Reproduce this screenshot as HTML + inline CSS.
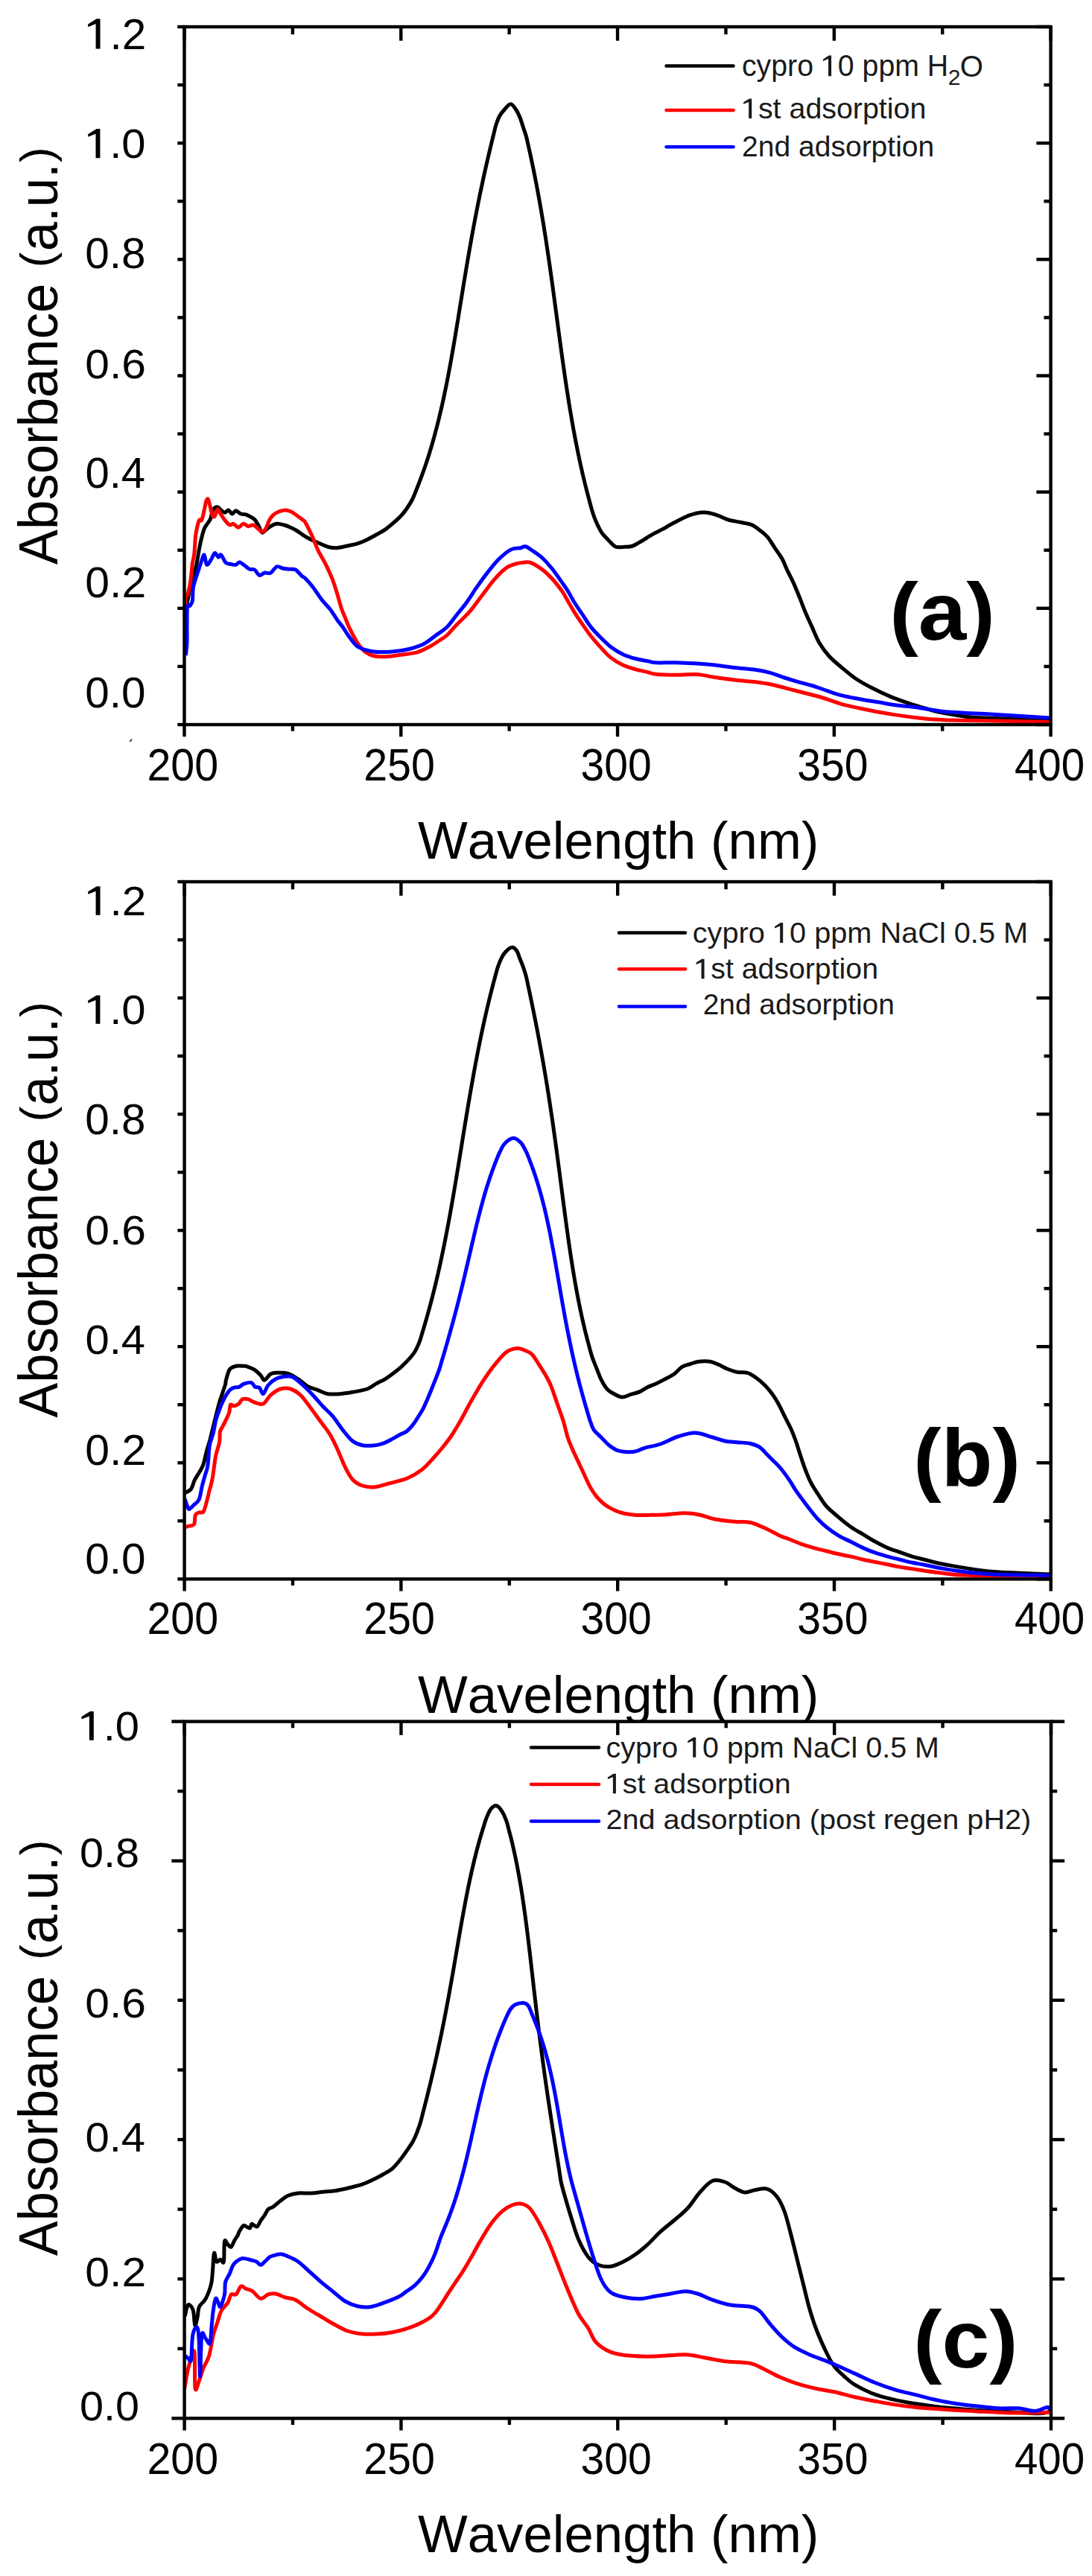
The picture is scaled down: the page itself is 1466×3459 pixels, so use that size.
<!DOCTYPE html><html><head><meta charset="utf-8"><title>UV-Vis spectra</title><style>html,body{margin:0;padding:0;background:#fff;width:1466px;height:3459px;overflow:hidden}svg text{font-family:"Liberation Sans",sans-serif}</style></head><body><svg xmlns="http://www.w3.org/2000/svg" width="1466" height="3459" viewBox="0 0 1466 3459" style="display:block;font-family:'Liberation Sans',sans-serif">
<rect width="1466" height="3459" fill="#fff"/>
<clipPath id="clipa"><rect x="247.5" y="36" width="1163.1" height="937"/></clipPath>
<g clip-path="url(#clipa)">
<path d="M248,838 C248.33,834.45 248.55,825.82 250,816.7 C251.45,807.58 254.48,792.75 256.7,783.3 C258.92,773.85 261.5,767.77 263.3,760 C265.1,752.23 266.25,743.08 267.5,736.7 C268.75,730.32 269.68,726.15 270.8,721.7 C271.92,717.25 272.95,713.07 274.2,710 C275.45,706.93 276.92,705.52 278.3,703.3 C279.68,701.08 281.25,699.75 282.5,696.7 C283.75,693.65 284.27,687.65 285.8,685 C287.33,682.35 289.88,680.8 291.7,680.8 C293.52,680.8 295.03,683.75 296.7,685 C298.37,686.25 300.03,688.3 301.7,688.3 C303.37,688.3 305.03,684.72 306.7,685 C308.37,685.28 310.03,689.87 311.7,690 C313.37,690.13 314.77,685.8 316.7,685.8 C318.63,685.8 321.08,689.17 323.3,690 C325.52,690.83 327.77,690.1 330,690.8 C332.23,691.5 334.75,693.08 336.7,694.2 C338.65,695.32 340.03,695.7 341.7,697.5 C343.37,699.3 345.03,702.08 346.7,705 C348.37,707.92 350.03,713.88 351.7,715 C353.37,716.12 354.77,713.08 356.7,711.7 C358.63,710.32 360.8,708.1 363.3,706.7 C365.8,705.3 368.63,703.58 371.7,703.3 C374.77,703.02 378.65,704.17 381.7,705 C384.75,705.83 387.23,707.05 390,708.3 C392.77,709.55 395.52,710.83 398.3,712.5 C401.08,714.17 403.92,716.5 406.7,718.3 C409.48,720.1 412.78,722.05 415,723.3 C417.22,724.55 417.5,724.68 420,725.8 C422.5,726.92 426.67,728.6 430,730 C433.33,731.4 436.38,733.23 440,734.2 C443.62,735.17 446.98,736.08 451.7,735.8 C456.42,735.52 463.58,733.48 468.3,732.5 C473.02,731.52 475.85,731.25 480,729.9 C484.15,728.55 488.62,726.6 493.2,724.4 C497.78,722.2 503.28,719.08 507.5,716.7 C511.72,714.32 514.75,712.8 518.5,710.1 C522.25,707.4 526.67,703.43 530,700.5 C533.33,697.57 535.83,695.42 538.5,692.5 C541.17,689.58 543.5,686.63 546,683 C548.5,679.37 551.37,674.83 553.48,670.74 C555.59,666.65 556.99,662.57 558.66,658.48 C560.33,654.39 561.93,650.31 563.49,646.22 C565.05,642.13 566.55,638.05 568.01,633.96 C569.47,629.87 570.87,625.79 572.23,621.7 C573.59,617.61 574.92,613.53 576.19,609.44 C577.47,605.35 578.69,601.27 579.88,597.18 C581.07,593.09 582.23,589.01 583.35,584.92 C584.47,580.83 585.55,576.75 586.6,572.66 C587.65,568.57 588.67,564.49 589.66,560.4 C590.65,556.31 591.61,552.22 592.55,548.13 C593.49,544.04 594.39,539.96 595.28,535.87 C596.16,531.78 597.02,527.7 597.86,523.61 C598.7,519.52 599.53,515.44 600.33,511.35 C601.13,507.26 601.91,503.18 602.68,499.09 C603.45,495 604.2,490.92 604.94,486.83 C605.68,482.74 606.41,478.66 607.13,474.57 C607.85,470.48 608.55,466.4 609.25,462.31 C609.95,458.22 610.63,454.14 611.31,450.05 C611.99,445.96 612.67,441.88 613.34,437.79 C614.01,433.7 614.69,429.62 615.35,425.53 C616.01,421.44 616.67,417.36 617.33,413.27 C617.99,409.18 618.66,405.1 619.32,401.01 C619.98,396.92 620.64,392.84 621.31,388.75 C621.97,384.66 622.64,380.58 623.31,376.49 C623.98,372.4 624.66,368.32 625.34,364.23 C626.02,360.14 626.71,356.06 627.4,351.97 C628.09,347.88 628.79,343.8 629.5,339.71 C630.21,335.62 630.92,331.54 631.65,327.45 C632.38,323.36 633.11,319.28 633.85,315.19 C634.59,311.1 635.35,307.02 636.11,302.93 C636.87,298.84 637.64,294.76 638.43,290.67 C639.21,286.58 640.01,282.49 640.82,278.4 C641.63,274.31 642.45,270.23 643.28,266.14 C644.11,262.05 644.96,257.97 645.82,253.88 C646.68,249.79 647.56,245.71 648.44,241.62 C649.33,237.53 650.22,233.45 651.13,229.36 C652.04,225.27 652.97,221.19 653.91,217.1 C654.85,213.01 655.79,208.93 656.76,204.84 C657.73,200.75 658.71,196.67 659.7,192.58 C660.69,188.49 661.7,184.41 662.72,180.32 C663.74,176.23 664.49,172.15 665.82,168.06 C667.15,163.97 668.79,159.31 670.7,155.8 C672.61,152.29 674.83,149.67 677.3,147 C679.77,144.33 682.95,139.8 685.5,139.8 C688.05,139.8 690.5,143.97 692.6,147 C694.7,150.03 696.45,153.97 698.1,158 C699.75,162.03 701.11,167 702.5,171.2 C703.89,175.4 705.33,179.21 706.45,183.21 C707.57,187.21 708.31,191.21 709.22,195.21 C710.13,199.21 711.02,203.22 711.89,207.22 C712.76,211.22 713.61,215.23 714.45,219.23 C715.29,223.23 716.11,227.23 716.92,231.23 C717.73,235.23 718.51,239.24 719.29,243.24 C720.06,247.24 720.82,251.25 721.57,255.25 C722.32,259.25 723.05,263.25 723.77,267.25 C724.49,271.25 725.2,275.26 725.89,279.26 C726.58,283.26 727.26,287.27 727.93,291.27 C728.6,295.27 729.26,299.27 729.91,303.27 C730.56,307.27 731.19,311.28 731.82,315.28 C732.45,319.28 733.06,323.29 733.67,327.29 C734.28,331.29 734.88,335.3 735.47,339.3 C736.06,343.3 736.65,347.3 737.23,351.3 C737.81,355.3 738.38,359.31 738.94,363.31 C739.51,367.31 740.07,371.32 740.62,375.32 C741.17,379.32 741.73,383.32 742.27,387.32 C742.81,391.32 743.35,395.33 743.89,399.33 C744.43,403.33 744.97,407.34 745.51,411.34 C746.05,415.34 746.58,419.34 747.11,423.34 C747.64,427.34 748.18,431.35 748.71,435.35 C749.24,439.35 749.77,443.36 750.31,447.36 C750.85,451.36 751.39,455.36 751.93,459.36 C752.47,463.36 753.02,467.37 753.57,471.37 C754.12,475.37 754.67,479.38 755.23,483.38 C755.79,487.38 756.36,491.38 756.93,495.38 C757.5,499.38 758.08,503.39 758.67,507.39 C759.26,511.39 759.86,515.4 760.46,519.4 C761.07,523.4 761.67,527.4 762.3,531.4 C762.92,535.4 763.56,539.41 764.21,543.41 C764.86,547.41 765.52,551.42 766.2,555.42 C766.88,559.42 767.57,563.42 768.27,567.42 C768.97,571.42 769.69,575.43 770.43,579.43 C771.17,583.43 771.92,587.44 772.69,591.44 C773.46,595.44 774.25,599.45 775.06,603.45 C775.87,607.45 776.7,611.45 777.55,615.45 C778.4,619.45 779.27,623.46 780.16,627.46 C781.05,631.46 781.97,635.47 782.91,639.47 C783.85,643.47 784.82,647.47 785.81,651.47 C786.8,655.47 787.82,659.48 788.86,663.48 C789.9,667.48 790.98,671.49 792.08,675.49 C793.18,679.49 794.18,683.49 795.47,687.49 C796.76,691.49 797.79,694.95 799.8,699.5 C801.8,704.05 804.75,710.6 807.5,714.8 C810.25,719 813.18,721.48 816.3,724.7 C819.42,727.92 822.73,732.48 826.2,734.1 C829.67,735.72 833.45,734.5 837.1,734.4 C840.75,734.3 844.8,734.38 848.1,733.5 C851.4,732.62 853.6,730.93 856.9,729.1 C860.2,727.27 864.23,724.7 867.9,722.5 C871.57,720.3 875.23,717.92 878.9,715.9 C882.57,713.88 886.38,712.3 889.9,710.4 C893.42,708.5 894.98,707.2 900,704.5 C905.02,701.8 915.02,696.52 920,694.2 C924.98,691.88 926.05,691.62 929.9,690.6 C933.75,689.58 939.25,688.37 943.1,688.1 C946.95,687.83 949.15,688.17 953,689 C956.85,689.83 962.08,691.6 966.2,693.1 C970.32,694.6 973.03,696.63 977.7,698 C982.37,699.37 988.98,700.2 994.2,701.3 C999.42,702.4 1004.88,702.95 1009,704.6 C1013.12,706.25 1015.33,708.45 1018.9,711.2 C1022.47,713.95 1026.83,716.98 1030.4,721.1 C1033.97,725.22 1037,730.95 1040.3,735.9 C1043.6,740.85 1047.45,745.85 1050.2,750.8 C1052.95,755.75 1054.33,760.38 1056.8,765.6 C1059.27,770.82 1062.25,776.05 1065,782.1 C1067.75,788.15 1070.53,795.08 1073.3,801.9 C1076.07,808.72 1078.83,816.42 1081.6,823 C1084.37,829.58 1086.87,834.75 1089.9,841.4 C1092.93,848.05 1095.95,856.3 1099.8,862.9 C1103.65,869.5 1108.07,875.52 1113,881 C1117.93,886.48 1123.37,890.72 1129.4,895.8 C1135.43,900.88 1142.32,906.83 1149.2,911.5 C1156.08,916.17 1163,919.82 1170.7,923.8 C1178.4,927.78 1187.17,931.97 1195.4,935.4 C1203.63,938.83 1211.87,941.65 1220.1,944.4 C1228.33,947.15 1238.15,949.97 1244.8,951.9 C1251.45,953.83 1251.92,954.37 1260,956 C1268.08,957.63 1283.03,960.37 1293.3,961.7 C1303.57,963.03 1302.23,963.15 1321.6,964 C1340.97,964.85 1394.85,966.33 1409.5,966.8" fill="none" stroke="#000000" stroke-width="5.0" stroke-linejoin="round" stroke-linecap="butt"/>
<path d="M248,848 C248.17,840.83 248.33,813.33 249,805 C249.67,796.67 251,801.33 252,798 C253,794.67 254.17,789.67 255,785 C255.83,780.33 256.45,774.72 257,770 C257.55,765.28 257.67,761.15 258.3,756.7 C258.93,752.25 260.1,749.42 260.8,743.3 C261.5,737.18 261.8,726.1 262.5,720 C263.2,713.9 264.17,710.32 265,706.7 C265.83,703.08 266.53,699.7 267.5,698.3 C268.47,696.9 269.68,700.52 270.8,698.3 C271.92,696.08 273.22,689.17 274.2,685 C275.18,680.83 275.87,675.8 276.7,673.3 C277.53,670.8 278.37,669.17 279.2,670 C280.03,670.83 280.73,674.68 281.7,678.3 C282.67,681.92 283.9,689.2 285,691.7 C286.1,694.2 287.18,694.55 288.3,693.3 C289.42,692.05 290.58,685.03 291.7,684.2 C292.82,683.37 293.33,685.95 295,688.3 C296.67,690.65 299.48,695.52 301.7,698.3 C303.92,701.08 306.37,704.17 308.3,705 C310.23,705.83 311.35,702.75 313.3,703.3 C315.25,703.85 317.77,708.3 320,708.3 C322.23,708.3 324.48,703.57 326.7,703.3 C328.92,703.03 331.08,706.42 333.3,706.7 C335.52,706.98 337.77,704.45 340,705 C342.23,705.55 344.75,708.47 346.7,710 C348.65,711.53 350.03,714.2 351.7,714.2 C353.37,714.2 355.03,712.65 356.7,710 C358.37,707.35 360.03,701.35 361.7,698.3 C363.37,695.25 364.77,693.5 366.7,691.7 C368.63,689.9 370.53,688.62 373.3,687.5 C376.07,686.38 380.23,685 383.3,685 C386.37,685 388.92,686.12 391.7,687.5 C394.48,688.88 397.5,691.5 400,693.3 C402.5,695.1 405.03,696.9 406.7,698.3 C408.37,699.7 408.07,698.37 410,701.7 C411.93,705.03 415.52,712.2 418.3,718.3 C421.08,724.4 423.63,731.9 426.7,738.3 C429.77,744.7 433.52,750.3 436.7,756.7 C439.88,763.1 443.17,770.03 445.8,776.7 C448.43,783.37 450.42,790.03 452.5,796.7 C454.58,803.37 456.72,811.82 458.3,816.7 C459.88,821.58 460.72,822.78 462,826 C463.28,829.22 464.67,832.83 466,836 C467.33,839.17 467.67,840.45 470,845 C472.33,849.55 476.67,858.3 480,863.3 C483.33,868.3 486.38,872.08 490,875 C493.62,877.92 496.98,879.68 501.7,880.8 C506.42,881.92 512.2,881.97 518.3,881.7 C524.4,881.43 531.35,880.18 538.3,879.2 C545.25,878.22 553.6,877.62 560,875.8 C566.4,873.98 571.7,870.93 576.7,868.3 C581.7,865.67 586.12,862.55 590,860 C593.88,857.45 596.13,856.55 600,853 C603.87,849.45 608.25,843.83 613.2,838.7 C618.15,833.57 624.2,828.52 629.7,822.2 C635.2,815.88 640.72,807.95 646.2,800.8 C651.68,793.65 657.12,785.62 662.6,779.3 C668.08,772.98 674.15,766.6 679.1,762.9 C684.05,759.2 688.45,758.35 692.3,757.1 C696.15,755.85 698.9,755.68 702.2,755.4 C705.5,755.12 707.7,753.75 712.1,755.4 C716.5,757.05 723.65,761.58 728.6,765.3 C733.55,769.02 737.42,772.88 741.8,777.7 C746.18,782.52 751.87,789.98 754.9,794.2 C757.93,798.42 757.32,798.38 760,803 C762.68,807.62 767.33,816 771,821.9 C774.67,827.8 778.33,833.1 782,838.4 C785.67,843.7 788.97,848.58 793,853.7 C797.03,858.82 801.63,864.15 806.2,869.1 C810.77,874.05 815.28,879.37 820.4,883.4 C825.52,887.43 831.4,890.73 836.9,893.3 C842.4,895.87 847.9,897.25 853.4,898.8 C858.9,900.35 865.47,901.53 869.9,902.6 C874.33,903.67 873.52,904.6 880,905.2 C886.48,905.8 899.5,906.15 908.8,906.2 C918.1,906.25 927.78,905.03 935.8,905.5 C943.82,905.97 948.57,907.77 956.9,909 C965.23,910.23 976.18,911.77 985.8,912.9 C995.42,914.03 1006.6,914.83 1014.6,915.8 C1022.6,916.77 1027.38,917.42 1033.8,918.7 C1040.22,919.98 1046.68,921.87 1053.1,923.5 C1059.52,925.13 1066.15,926.92 1072.3,928.5 C1078.45,930.08 1084.6,931.58 1090,933 C1095.4,934.42 1098.13,934.95 1104.7,937 C1111.27,939.05 1121.15,942.97 1129.4,945.3 C1137.65,947.63 1145.95,949.22 1154.2,951 C1162.45,952.78 1170.67,954.48 1178.9,956 C1187.13,957.52 1195.37,958.87 1203.6,960.1 C1211.83,961.33 1220.05,962.43 1228.3,963.4 C1236.55,964.37 1245.6,965.3 1253.1,965.9 C1260.6,966.5 1261.88,966.68 1273.3,967 C1284.72,967.32 1298.9,967.37 1321.6,967.8 C1344.3,968.23 1394.85,969.3 1409.5,969.6" fill="none" stroke="#ff0000" stroke-width="5.0" stroke-linejoin="round" stroke-linecap="butt"/>
<path d="M249.5,880 C249.75,877 250.75,868.17 251,862 C251.25,855.83 250.92,850.83 251,843 C251.08,835.17 250.83,819.95 251.5,815 C252.17,810.05 253.87,814.68 255,813.3 C256.13,811.92 257.6,810.58 258.3,806.7 C259,802.82 258.63,794.45 259.2,790 C259.77,785.55 260.73,783.33 261.7,780 C262.67,776.67 263.62,774.17 265,770 C266.38,765.83 268.47,759.17 270,755 C271.53,750.83 272.95,744.45 274.2,745 C275.45,745.55 275.98,757.18 277.5,758.3 C279.02,759.42 281.5,754.33 283.3,751.7 C285.1,749.07 286.63,743.07 288.3,742.5 C289.97,741.93 291.9,747.88 293.3,748.3 C294.7,748.72 295.03,743.75 296.7,745 C298.37,746.25 301.08,753.72 303.3,755.8 C305.52,757.88 307.77,757.08 310,757.5 C312.23,757.92 314.75,758.72 316.7,758.3 C318.65,757.88 319.77,754.85 321.7,755 C323.63,755.15 326.08,757.67 328.3,759.2 C330.52,760.73 332.77,763.23 335,764.2 C337.23,765.17 339.48,763.62 341.7,765 C343.92,766.38 346.08,771.8 348.3,772.5 C350.52,773.2 352.5,769.75 355,769.2 C357.5,768.65 360.52,770.6 363.3,769.2 C366.08,767.8 368.92,761.78 371.7,760.8 C374.48,759.82 377.23,762.73 380,763.3 C382.77,763.87 385.52,763.92 388.3,764.2 C391.08,764.48 393.92,763.48 396.7,765 C399.48,766.52 402.78,771.35 405,773.3 C407.22,775.25 407.5,774.2 410,776.7 C412.5,779.2 416.38,783.58 420,788.3 C423.62,793.02 427.82,800 431.7,805 C435.58,810 439.7,813.58 443.3,818.3 C446.9,823.02 450.52,829.4 453.3,833.3 C456.08,837.2 457.22,837.8 460,841.7 C462.78,845.6 466.38,852.12 470,856.7 C473.62,861.28 476.42,866.15 481.7,869.2 C486.98,872.25 494.2,874.03 501.7,875 C509.2,875.97 518.93,875.55 526.7,875 C534.47,874.45 541.37,873.37 548.3,871.7 C555.23,870.03 562.18,868.07 568.3,865 C574.42,861.93 579.72,857.13 585,853.3 C590.28,849.47 595.3,846.63 600,842 C604.7,837.37 608.8,831 613.2,825.5 C617.6,820 622,815.05 626.4,809 C630.8,802.95 635.22,795.52 639.6,789.2 C643.98,782.88 647.77,777.42 652.7,771.1 C657.63,764.78 663.7,756.8 669.2,751.3 C674.7,745.8 680.75,740.7 685.7,738.1 C690.65,735.5 695.6,736.42 698.9,735.7 C702.2,734.98 702.75,733.12 705.5,733.8 C708.25,734.48 711.55,737.15 715.4,739.8 C719.25,742.45 724.2,745.58 728.6,749.7 C733,753.82 737.42,759.02 741.8,764.5 C746.18,769.98 751.5,777.8 754.9,782.6 C758.3,787.4 759.52,788.95 762.2,793.3 C764.88,797.65 767.7,803.38 771,808.7 C774.3,814.02 778.33,819.72 782,825.2 C785.67,830.68 788.97,836.48 793,841.6 C797.03,846.72 801.63,851.32 806.2,855.9 C810.77,860.48 815.28,865.25 820.4,869.1 C825.52,872.95 831.4,876.43 836.9,879 C842.4,881.57 847.9,883.03 853.4,884.5 C858.9,885.97 865.47,886.92 869.9,887.8 C874.33,888.68 873.52,889.47 880,889.8 C886.48,890.13 900.15,889.63 908.8,889.8 C917.45,889.97 923.88,890.32 931.9,890.8 C939.92,891.28 947.92,891.75 956.9,892.7 C965.88,893.65 976.18,895.38 985.8,896.5 C995.42,897.62 1006.6,898.27 1014.6,899.4 C1022.6,900.53 1027.38,901.53 1033.8,903.3 C1040.22,905.07 1046.68,907.92 1053.1,910 C1059.52,912.08 1066.15,914.05 1072.3,915.8 C1078.45,917.55 1084.6,918.88 1090,920.5 C1095.4,922.12 1098.13,923.3 1104.7,925.5 C1111.27,927.7 1121.15,931.5 1129.4,933.7 C1137.65,935.9 1145.95,937.18 1154.2,938.7 C1162.45,940.22 1170.67,941.43 1178.9,942.8 C1187.13,944.17 1195.37,945.8 1203.6,946.9 C1211.83,948 1220.05,948.3 1228.3,949.4 C1236.55,950.5 1245.6,952.4 1253.1,953.5 C1260.6,954.6 1261.88,955.15 1273.3,956 C1284.72,956.85 1298.9,957.25 1321.6,958.6 C1344.3,959.95 1394.85,963.18 1409.5,964.1" fill="none" stroke="#0000ff" stroke-width="5.0" stroke-linejoin="round" stroke-linecap="butt"/>
</g>
<rect x="247.5" y="36" width="1163.1" height="937" fill="none" stroke="#000" stroke-width="4.4"/>
<line x1="247.5" y1="973" x2="247.5" y2="989.2" stroke="#000" stroke-width="4.4" stroke-linecap="butt"/>
<line x1="247.5" y1="36" x2="247.5" y2="54.7" stroke="#000" stroke-width="4.4" stroke-linecap="butt"/>
<line x1="392.89" y1="973" x2="392.89" y2="981.7" stroke="#000" stroke-width="4.4" stroke-linecap="butt"/>
<line x1="392.89" y1="36" x2="392.89" y2="46.2" stroke="#000" stroke-width="4.4" stroke-linecap="butt"/>
<line x1="538.27" y1="973" x2="538.27" y2="989.2" stroke="#000" stroke-width="4.4" stroke-linecap="butt"/>
<line x1="538.27" y1="36" x2="538.27" y2="54.7" stroke="#000" stroke-width="4.4" stroke-linecap="butt"/>
<line x1="683.66" y1="973" x2="683.66" y2="981.7" stroke="#000" stroke-width="4.4" stroke-linecap="butt"/>
<line x1="683.66" y1="36" x2="683.66" y2="46.2" stroke="#000" stroke-width="4.4" stroke-linecap="butt"/>
<line x1="829.05" y1="973" x2="829.05" y2="989.2" stroke="#000" stroke-width="4.4" stroke-linecap="butt"/>
<line x1="829.05" y1="36" x2="829.05" y2="54.7" stroke="#000" stroke-width="4.4" stroke-linecap="butt"/>
<line x1="974.44" y1="973" x2="974.44" y2="981.7" stroke="#000" stroke-width="4.4" stroke-linecap="butt"/>
<line x1="974.44" y1="36" x2="974.44" y2="46.2" stroke="#000" stroke-width="4.4" stroke-linecap="butt"/>
<line x1="1119.82" y1="973" x2="1119.82" y2="989.2" stroke="#000" stroke-width="4.4" stroke-linecap="butt"/>
<line x1="1119.82" y1="36" x2="1119.82" y2="54.7" stroke="#000" stroke-width="4.4" stroke-linecap="butt"/>
<line x1="1265.21" y1="973" x2="1265.21" y2="981.7" stroke="#000" stroke-width="4.4" stroke-linecap="butt"/>
<line x1="1265.21" y1="36" x2="1265.21" y2="46.2" stroke="#000" stroke-width="4.4" stroke-linecap="butt"/>
<line x1="1410.6" y1="973" x2="1410.6" y2="989.2" stroke="#000" stroke-width="4.4" stroke-linecap="butt"/>
<line x1="1410.6" y1="36" x2="1410.6" y2="54.7" stroke="#000" stroke-width="4.4" stroke-linecap="butt"/>
<line x1="238.3" y1="36" x2="247.5" y2="36" stroke="#000" stroke-width="4.4" stroke-linecap="butt"/>
<line x1="1391.4" y1="36" x2="1410.6" y2="36" stroke="#000" stroke-width="4.4" stroke-linecap="butt"/>
<line x1="238.3" y1="114.08" x2="247.5" y2="114.08" stroke="#000" stroke-width="4.4" stroke-linecap="butt"/>
<line x1="1401.4" y1="114.08" x2="1410.6" y2="114.08" stroke="#000" stroke-width="4.4" stroke-linecap="butt"/>
<line x1="238.3" y1="192.17" x2="247.5" y2="192.17" stroke="#000" stroke-width="4.4" stroke-linecap="butt"/>
<line x1="1391.4" y1="192.17" x2="1410.6" y2="192.17" stroke="#000" stroke-width="4.4" stroke-linecap="butt"/>
<line x1="238.3" y1="270.25" x2="247.5" y2="270.25" stroke="#000" stroke-width="4.4" stroke-linecap="butt"/>
<line x1="1401.4" y1="270.25" x2="1410.6" y2="270.25" stroke="#000" stroke-width="4.4" stroke-linecap="butt"/>
<line x1="238.3" y1="348.33" x2="247.5" y2="348.33" stroke="#000" stroke-width="4.4" stroke-linecap="butt"/>
<line x1="1391.4" y1="348.33" x2="1410.6" y2="348.33" stroke="#000" stroke-width="4.4" stroke-linecap="butt"/>
<line x1="238.3" y1="426.42" x2="247.5" y2="426.42" stroke="#000" stroke-width="4.4" stroke-linecap="butt"/>
<line x1="1401.4" y1="426.42" x2="1410.6" y2="426.42" stroke="#000" stroke-width="4.4" stroke-linecap="butt"/>
<line x1="238.3" y1="504.5" x2="247.5" y2="504.5" stroke="#000" stroke-width="4.4" stroke-linecap="butt"/>
<line x1="1391.4" y1="504.5" x2="1410.6" y2="504.5" stroke="#000" stroke-width="4.4" stroke-linecap="butt"/>
<line x1="238.3" y1="582.58" x2="247.5" y2="582.58" stroke="#000" stroke-width="4.4" stroke-linecap="butt"/>
<line x1="1401.4" y1="582.58" x2="1410.6" y2="582.58" stroke="#000" stroke-width="4.4" stroke-linecap="butt"/>
<line x1="238.3" y1="660.67" x2="247.5" y2="660.67" stroke="#000" stroke-width="4.4" stroke-linecap="butt"/>
<line x1="1391.4" y1="660.67" x2="1410.6" y2="660.67" stroke="#000" stroke-width="4.4" stroke-linecap="butt"/>
<line x1="238.3" y1="738.75" x2="247.5" y2="738.75" stroke="#000" stroke-width="4.4" stroke-linecap="butt"/>
<line x1="1401.4" y1="738.75" x2="1410.6" y2="738.75" stroke="#000" stroke-width="4.4" stroke-linecap="butt"/>
<line x1="238.3" y1="816.83" x2="247.5" y2="816.83" stroke="#000" stroke-width="4.4" stroke-linecap="butt"/>
<line x1="1391.4" y1="816.83" x2="1410.6" y2="816.83" stroke="#000" stroke-width="4.4" stroke-linecap="butt"/>
<line x1="238.3" y1="894.92" x2="247.5" y2="894.92" stroke="#000" stroke-width="4.4" stroke-linecap="butt"/>
<line x1="1401.4" y1="894.92" x2="1410.6" y2="894.92" stroke="#000" stroke-width="4.4" stroke-linecap="butt"/>
<line x1="238.3" y1="973" x2="247.5" y2="973" stroke="#000" stroke-width="4.4" stroke-linecap="butt"/>
<line x1="1391.4" y1="973" x2="1410.6" y2="973" stroke="#000" stroke-width="4.4" stroke-linecap="butt"/>
<clipPath id="clipb"><rect x="247.6" y="1184" width="1163.15" height="936.3"/></clipPath>
<g clip-path="url(#clipb)">
<path d="M248.5,2004.5 C249.83,2003.68 254.35,2002.48 256.5,1999.6 C258.65,1996.72 259.33,1991.33 261.4,1987.2 C263.47,1983.07 266.95,1978.33 268.9,1974.8 C270.85,1971.27 271.7,1970.32 273.1,1966 C274.5,1961.68 275.78,1954.5 277.3,1948.9 C278.82,1943.3 280.55,1938.58 282.2,1932.4 C283.85,1926.22 285.68,1917.98 287.2,1911.8 C288.72,1905.62 290.07,1900.1 291.3,1895.3 C292.53,1890.5 293.37,1887.12 294.6,1883 C295.83,1878.88 297.33,1874.73 298.7,1870.6 C300.07,1866.47 302.08,1860.8 302.8,1858.2 C303.52,1855.6 302.1,1858.2 303,1855 C303.9,1851.8 305.87,1842.45 308.2,1839 C310.53,1835.55 313.7,1835.08 317,1834.3 C320.3,1833.52 325.55,1834.18 328,1834.3 C330.45,1834.42 329.42,1834.17 331.7,1835 C333.98,1835.83 338.65,1837.35 341.7,1839.3 C344.75,1841.25 347.78,1844.37 350,1846.7 C352.22,1849.03 352.78,1853.58 355,1853.3 C357.22,1853.02 360.25,1846.67 363.3,1845 C366.35,1843.33 369.4,1843.42 373.3,1843.3 C377.2,1843.18 382.25,1842.9 386.7,1844.3 C391.15,1845.7 395.57,1848.8 400,1851.7 C404.43,1854.6 408.85,1859.2 413.3,1861.7 C417.75,1864.2 422.25,1865.03 426.7,1866.7 C431.15,1868.37 435,1870.87 440,1871.7 C445,1872.53 451.15,1872.1 456.7,1871.7 C462.25,1871.3 467.2,1870.42 473.3,1869.3 C479.4,1868.18 487.93,1866.95 493.3,1865 C498.67,1863.05 501.63,1859.75 505.5,1857.6 C509.37,1855.45 512.83,1854.3 516.5,1852.1 C520.17,1849.9 523.83,1847.15 527.5,1844.4 C531.17,1841.65 535.02,1838.72 538.5,1835.6 C541.98,1832.48 545.3,1829.18 548.4,1825.7 C551.5,1822.22 554.68,1818.58 557.1,1814.7 C559.52,1810.82 561.29,1806.53 562.9,1802.44 C564.51,1798.35 565.51,1794.27 566.77,1790.18 C568.03,1786.09 569.26,1782.01 570.46,1777.92 C571.66,1773.83 572.83,1769.75 573.97,1765.66 C575.12,1761.57 576.24,1757.49 577.33,1753.4 C578.43,1749.31 579.49,1745.23 580.54,1741.14 C581.59,1737.05 582.61,1732.97 583.61,1728.88 C584.61,1724.79 585.58,1720.71 586.54,1716.62 C587.5,1712.53 588.43,1708.45 589.35,1704.36 C590.27,1700.27 591.17,1696.19 592.05,1692.1 C592.93,1688.01 593.79,1683.92 594.64,1679.83 C595.49,1675.74 596.32,1671.66 597.13,1667.57 C597.94,1663.48 598.74,1659.4 599.53,1655.31 C600.32,1651.22 601.1,1647.14 601.86,1643.05 C602.62,1638.96 603.37,1634.88 604.11,1630.79 C604.85,1626.7 605.58,1622.62 606.3,1618.53 C607.02,1614.44 607.73,1610.36 608.43,1606.27 C609.13,1602.18 609.83,1598.1 610.52,1594.01 C611.21,1589.92 611.89,1585.84 612.57,1581.75 C613.25,1577.66 613.93,1573.58 614.6,1569.49 C615.27,1565.4 615.94,1561.32 616.6,1557.23 C617.26,1553.14 617.93,1549.06 618.59,1544.97 C619.25,1540.88 619.91,1536.8 620.57,1532.71 C621.23,1528.62 621.89,1524.54 622.56,1520.45 C623.22,1516.36 623.89,1512.28 624.56,1508.19 C625.23,1504.1 625.9,1500.02 626.58,1495.93 C627.26,1491.84 627.94,1487.76 628.63,1483.67 C629.32,1479.58 630.01,1475.5 630.71,1471.41 C631.41,1467.32 632.12,1463.24 632.84,1459.15 C633.56,1455.06 634.28,1450.98 635.02,1446.89 C635.75,1442.8 636.49,1438.72 637.25,1434.63 C638.01,1430.54 638.78,1426.46 639.56,1422.37 C640.34,1418.28 641.13,1414.19 641.94,1410.1 C642.75,1406.01 643.56,1401.93 644.4,1397.84 C645.24,1393.75 646.08,1389.67 646.95,1385.58 C647.82,1381.49 648.7,1377.41 649.6,1373.32 C650.5,1369.23 651.41,1365.15 652.35,1361.06 C653.29,1356.97 654.24,1352.89 655.21,1348.8 C656.19,1344.71 657.18,1340.63 658.2,1336.54 C659.22,1332.45 660.25,1328.37 661.31,1324.28 C662.37,1320.19 663.44,1316.11 664.55,1312.02 C665.65,1307.93 666.58,1303.85 667.94,1299.76 C669.3,1295.67 670.99,1291.01 672.7,1287.5 C674.41,1283.99 675.82,1281.27 678.2,1278.7 C680.58,1276.13 684.43,1272.47 687,1272.1 C689.57,1271.73 691.77,1273.93 693.6,1276.5 C695.43,1279.07 696.53,1283.83 698,1287.5 C699.47,1291.17 701.03,1294.63 702.4,1298.5 C703.77,1302.37 705.13,1306.63 706.21,1310.69 C707.29,1314.75 707.99,1318.82 708.86,1322.88 C709.74,1326.94 710.6,1331.01 711.46,1335.07 C712.32,1339.13 713.17,1343.19 714.01,1347.25 C714.85,1351.31 715.68,1355.38 716.5,1359.44 C717.32,1363.5 718.14,1367.57 718.94,1371.63 C719.74,1375.69 720.54,1379.76 721.32,1383.82 C722.1,1387.88 722.87,1391.95 723.63,1396.01 C724.39,1400.07 725.14,1404.14 725.88,1408.2 C726.62,1412.26 727.35,1416.33 728.07,1420.39 C728.79,1424.45 729.5,1428.52 730.2,1432.58 C730.9,1436.64 731.59,1440.7 732.27,1444.76 C732.95,1448.82 733.61,1452.89 734.27,1456.95 C734.93,1461.01 735.58,1465.08 736.22,1469.14 C736.86,1473.2 737.49,1477.27 738.11,1481.33 C738.73,1485.39 739.35,1489.46 739.95,1493.52 C740.56,1497.58 741.15,1501.65 741.74,1505.71 C742.33,1509.77 742.91,1513.84 743.48,1517.9 C744.05,1521.96 744.62,1526.02 745.18,1530.08 C745.74,1534.14 746.3,1538.21 746.85,1542.27 C747.4,1546.33 747.94,1550.4 748.48,1554.46 C749.02,1558.52 749.56,1562.59 750.09,1566.65 C750.62,1570.71 751.15,1574.78 751.68,1578.84 C752.21,1582.9 752.73,1586.97 753.26,1591.03 C753.79,1595.09 754.31,1599.16 754.84,1603.22 C755.37,1607.28 755.9,1611.34 756.43,1615.4 C756.96,1619.46 757.49,1623.53 758.03,1627.59 C758.57,1631.65 759.1,1635.72 759.65,1639.78 C760.2,1643.84 760.75,1647.91 761.31,1651.97 C761.87,1656.03 762.44,1660.1 763.02,1664.16 C763.6,1668.22 764.18,1672.29 764.78,1676.35 C765.38,1680.41 765.99,1684.48 766.61,1688.54 C767.23,1692.6 767.87,1696.66 768.52,1700.72 C769.17,1704.78 769.84,1708.85 770.52,1712.91 C771.2,1716.97 771.91,1721.04 772.63,1725.1 C773.35,1729.16 774.09,1733.23 774.85,1737.29 C775.62,1741.35 776.41,1745.42 777.22,1749.48 C778.03,1753.54 778.87,1757.61 779.73,1761.67 C780.6,1765.73 781.49,1769.8 782.41,1773.86 C783.33,1777.92 784.28,1781.99 785.27,1786.05 C786.26,1790.11 787.28,1794.17 788.33,1798.23 C789.38,1802.29 790.47,1806.36 791.6,1810.42 C792.73,1814.48 793.73,1818.55 795.11,1822.61 C796.49,1826.67 798,1830.02 799.9,1834.8 C801.8,1839.58 804.15,1846.43 806.5,1851.3 C808.85,1856.17 811.72,1861 814,1864 C816.28,1867 816.78,1867.3 820.2,1869.3 C823.62,1871.3 830.2,1875.43 834.5,1876 C838.8,1876.57 841.88,1873.93 846,1872.7 C850.12,1871.47 855.35,1870.25 859.2,1868.6 C863.05,1866.95 865.52,1864.58 869.1,1862.8 C872.68,1861.02 876.85,1859.68 880.7,1857.9 C884.55,1856.12 888.08,1854.3 892.2,1852.1 C896.32,1849.9 901.55,1847.45 905.4,1844.7 C909.25,1841.95 911.73,1837.8 915.3,1835.6 C918.87,1833.4 922.97,1832.73 926.8,1831.5 C930.63,1830.27 933.9,1828.75 938.3,1828.2 C942.7,1827.65 948.75,1827.48 953.2,1828.2 C957.65,1828.92 961.08,1830.82 965,1832.5 C968.92,1834.18 972.53,1836.63 976.7,1838.3 C980.87,1839.97 985.57,1841.67 990,1842.5 C994.43,1843.33 999.13,1842.05 1003.3,1843.3 C1007.47,1844.55 1011.1,1847.22 1015,1850 C1018.9,1852.78 1023.08,1856.38 1026.7,1860 C1030.32,1863.62 1033.65,1867.53 1036.7,1871.7 C1039.75,1875.87 1042.23,1880 1045,1885 C1047.77,1890 1050.52,1896.15 1053.3,1901.7 C1056.08,1907.25 1059.25,1912.92 1061.7,1918.3 C1064.15,1923.68 1066.08,1928.72 1068,1934 C1069.92,1939.28 1071.23,1944.03 1073.2,1950 C1075.17,1955.97 1077.33,1963.2 1079.8,1969.8 C1082.27,1976.4 1084.98,1983.57 1088,1989.6 C1091.02,1995.63 1094.33,2000.52 1097.9,2006 C1101.47,2011.48 1104.73,2017.27 1109.4,2022.5 C1114.07,2027.73 1120.4,2032.73 1125.9,2037.4 C1131.4,2042.07 1136.9,2046.67 1142.4,2050.5 C1147.9,2054.33 1153.4,2057.1 1158.9,2060.4 C1164.4,2063.7 1169.9,2067.27 1175.4,2070.3 C1180.9,2073.33 1186.42,2076.27 1191.9,2078.6 C1197.38,2080.93 1202.82,2082.38 1208.3,2084.3 C1213.78,2086.22 1219.52,2088.48 1224.8,2090.1 C1230.08,2091.72 1233.33,2092.35 1240,2094 C1246.67,2095.65 1254.87,2097.98 1264.8,2100 C1274.73,2102.02 1288,2104.35 1299.6,2106.1 C1311.2,2107.85 1322.8,2109.48 1334.4,2110.5 C1346,2111.52 1356.6,2111.63 1369.2,2112.2 C1381.8,2112.77 1403.2,2113.62 1410,2113.9" fill="none" stroke="#000000" stroke-width="5.0" stroke-linejoin="round" stroke-linecap="butt"/>
<path d="M248.3,2050.7 C249.25,2050.42 251.95,2049.68 254,2049 C256.05,2048.32 259.22,2049.07 260.6,2046.6 C261.98,2044.13 261.23,2036.8 262.3,2034.2 C263.37,2031.6 265.22,2031.7 267,2031 C268.78,2030.3 271.32,2032.22 273,2030 C274.68,2027.78 275.73,2022.5 277.1,2017.7 C278.47,2012.9 279.83,2006.7 281.2,2001.2 C282.57,1995.7 283.9,1992.4 285.3,1984.7 C286.7,1977 288.05,1963.02 289.6,1955 C291.15,1946.98 293.63,1942.02 294.6,1936.6 C295.57,1931.18 294.58,1926.22 295.4,1922.5 C296.22,1918.78 298.13,1917.03 299.5,1914.3 C300.87,1911.57 302.22,1909.12 303.6,1906.1 C304.98,1903.08 306.83,1899.5 307.8,1896.2 C308.77,1892.9 308.3,1887.68 309.4,1886.3 C310.5,1884.92 312.47,1888.18 314.4,1887.9 C316.33,1887.62 319.22,1886.1 321,1884.6 C322.78,1883.1 323.05,1879.85 325.1,1878.9 C327.15,1877.95 330.55,1878.22 333.3,1878.9 C336.05,1879.58 338.27,1881.98 341.6,1883 C344.93,1884.02 349.68,1886.62 353.3,1885 C356.92,1883.38 359.4,1876.63 363.3,1873.3 C367.2,1869.97 372.25,1866.38 376.7,1865 C381.15,1863.62 385.57,1863.62 390,1865 C394.43,1866.38 398.85,1869.13 403.3,1873.3 C407.75,1877.47 412.25,1884.17 416.7,1890 C421.15,1895.83 425.57,1902.18 430,1908.3 C434.43,1914.42 439.42,1920.3 443.3,1926.7 C447.18,1933.1 449.97,1939.48 453.3,1946.7 C456.63,1953.92 459.97,1963.33 463.3,1970 C466.63,1976.67 469.4,1982.53 473.3,1986.7 C477.2,1990.87 481.7,1993.33 486.7,1995 C491.7,1996.67 497.2,1997.25 503.3,1996.7 C509.4,1996.15 516.07,1993.65 523.3,1991.7 C530.53,1989.75 539.47,1988.07 546.7,1985 C553.93,1981.93 560.87,1977.8 566.7,1973.3 C572.53,1968.8 576.98,1963.13 581.7,1958 C586.42,1952.87 590.85,1947.67 595,1942.5 C599.15,1937.33 602.72,1932.82 606.6,1927 C610.48,1921.18 614.42,1914.43 618.3,1907.6 C622.18,1900.77 626.73,1891.77 629.9,1886 C633.07,1880.23 634.12,1878.4 637.3,1873 C640.48,1867.6 644.6,1860.25 649,1853.6 C653.4,1846.95 658.57,1839.45 663.7,1833.1 C668.83,1826.75 674.67,1819.28 679.8,1815.5 C684.93,1811.72 690.1,1810.65 694.5,1810.4 C698.9,1810.15 702.88,1812.62 706.2,1814 C709.52,1815.38 711.42,1815.5 714.4,1818.7 C717.38,1821.9 720.88,1828.18 724.1,1833.2 C727.32,1838.22 731.05,1844.07 733.7,1848.8 C736.35,1853.53 737.48,1855.25 740,1861.6 C742.52,1867.95 746.05,1879.02 748.8,1886.9 C751.55,1894.78 754.28,1901.72 756.5,1908.9 C758.72,1916.08 760.07,1923.73 762.1,1930 C764.13,1936.27 766.32,1941 768.7,1946.5 C771.08,1952 773.83,1957.5 776.4,1963 C778.97,1968.5 781.53,1974.02 784.1,1979.5 C786.67,1984.98 789.07,1990.97 791.8,1995.9 C794.53,2000.83 797.22,2005.07 800.5,2009.1 C803.78,2013.13 807.47,2016.98 811.5,2020.1 C815.53,2023.22 820.3,2025.78 824.7,2027.8 C829.1,2029.82 832.95,2031.1 837.9,2032.2 C842.85,2033.3 849.05,2034.03 854.4,2034.4 C859.75,2034.77 864.07,2034.47 870,2034.4 C875.93,2034.33 881.67,2034.45 890,2034 C898.33,2033.55 911.67,2031.65 920,2031.7 C928.33,2031.75 933.33,2032.92 940,2034.3 C946.67,2035.68 952.22,2038.5 960,2040 C967.78,2041.5 978.92,2042.58 986.7,2043.3 C994.48,2044.02 1000.03,2042.9 1006.7,2044.3 C1013.37,2045.7 1020.03,2048.75 1026.7,2051.7 C1033.37,2054.65 1041.15,2059.45 1046.7,2062 C1052.25,2064.55 1055.03,2065.07 1060,2067 C1064.97,2068.93 1071,2071.67 1076.5,2073.6 C1082,2075.53 1087.52,2077.08 1093,2078.6 C1098.48,2080.12 1103.92,2081.33 1109.4,2082.7 C1114.88,2084.07 1120.4,2085.57 1125.9,2086.8 C1131.4,2088.03 1136.9,2088.87 1142.4,2090.1 C1147.9,2091.33 1153.4,2092.97 1158.9,2094.2 C1164.4,2095.43 1169.9,2096.4 1175.4,2097.5 C1180.9,2098.6 1186.42,2099.7 1191.9,2100.8 C1197.38,2101.9 1202.82,2103.13 1208.3,2104.1 C1213.78,2105.07 1219.52,2105.78 1224.8,2106.6 C1230.08,2107.42 1233.33,2108.07 1240,2109 C1246.67,2109.93 1254.87,2111.15 1264.8,2112.2 C1274.73,2113.25 1275.4,2114.73 1299.6,2115.3 C1323.8,2115.87 1391.6,2115.55 1410,2115.6" fill="none" stroke="#ff0000" stroke-width="5.0" stroke-linejoin="round" stroke-linecap="butt"/>
<path d="M248.3,2013 C248.75,2014.33 250.05,2018.75 251,2021 C251.95,2023.25 252.5,2026.5 254,2026.5 C255.5,2026.5 257.8,2023.15 260,2021 C262.2,2018.85 265.32,2017.87 267.2,2013.6 C269.08,2009.33 269.93,2000.9 271.3,1995.4 C272.67,1989.9 274.13,1985.17 275.4,1980.6 C276.67,1976.03 277.9,1974.65 278.9,1968 C279.9,1961.35 280.17,1948 281.4,1940.7 C282.63,1933.4 284.93,1929.7 286.3,1924.2 C287.67,1918.7 288.37,1912.52 289.6,1907.7 C290.83,1902.88 292.32,1899.15 293.7,1895.3 C295.08,1891.45 296.38,1888.03 297.9,1884.6 C299.42,1881.17 301.02,1877.72 302.8,1874.7 C304.58,1871.68 306.67,1868.42 308.6,1866.5 C310.53,1864.58 312.33,1863.88 314.4,1863.2 C316.47,1862.52 318.82,1863.23 321,1862.4 C323.18,1861.57 324.77,1859.17 327.5,1858.2 C330.23,1857.23 334.92,1855.9 337.4,1856.6 C339.88,1857.3 340.58,1861.28 342.4,1862.4 C344.22,1863.52 346.48,1861.75 348.3,1863.3 C350.12,1864.85 351.35,1872.25 353.3,1871.7 C355.25,1871.15 357.22,1863.33 360,1860 C362.78,1856.67 366.12,1853.65 370,1851.7 C373.88,1849.75 379.42,1848.7 383.3,1848.3 C387.18,1847.9 389.4,1847.35 393.3,1849.3 C397.2,1851.25 402.25,1856 406.7,1860 C411.15,1864 415.57,1868.58 420,1873.3 C424.43,1878.02 428.85,1883.57 433.3,1888.3 C437.75,1893.03 442.25,1896.42 446.7,1901.7 C451.15,1906.98 455.57,1914.45 460,1920 C464.43,1925.55 468.85,1931.55 473.3,1935 C477.75,1938.45 481.7,1939.75 486.7,1940.7 C491.7,1941.65 498.55,1941.17 503.3,1940.7 C508.05,1940.23 511.2,1939.37 515.2,1937.9 C519.2,1936.43 523.47,1933.92 527.3,1931.9 C531.13,1929.88 535.1,1927.45 538.2,1925.8 C541.3,1924.15 543.15,1924.2 545.9,1922 C548.65,1919.8 552.13,1915.82 554.7,1912.6 C557.27,1909.38 559.1,1906.17 561.3,1902.7 C563.5,1899.23 565.88,1895.63 567.9,1891.8 C569.92,1887.97 571.57,1883.92 573.4,1879.7 C575.23,1875.48 576.88,1871.45 578.9,1866.5 C580.92,1861.55 583.64,1854.76 585.5,1850 C587.36,1845.24 588.68,1841.94 590.04,1837.91 C591.39,1833.88 592.44,1829.85 593.63,1825.82 C594.82,1821.79 596.01,1817.75 597.19,1813.72 C598.37,1809.69 599.54,1805.66 600.69,1801.63 C601.84,1797.6 602.98,1793.57 604.11,1789.54 C605.24,1785.51 606.36,1781.48 607.46,1777.45 C608.56,1773.42 609.64,1769.38 610.71,1765.35 C611.78,1761.32 612.84,1757.29 613.88,1753.26 C614.92,1749.23 615.95,1745.2 616.96,1741.17 C617.97,1737.14 618.96,1733.11 619.95,1729.08 C620.94,1725.05 621.91,1721.01 622.88,1716.98 C623.85,1712.95 624.79,1708.92 625.74,1704.89 C626.69,1700.86 627.62,1696.83 628.56,1692.8 C629.5,1688.77 630.42,1684.74 631.36,1680.71 C632.3,1676.68 633.23,1672.65 634.17,1668.62 C635.11,1664.59 636.04,1660.55 637,1656.52 C637.96,1652.49 638.91,1648.46 639.9,1644.43 C640.88,1640.4 641.88,1636.37 642.91,1632.34 C643.93,1628.31 644.97,1624.28 646.05,1620.25 C647.13,1616.22 648.24,1612.18 649.39,1608.15 C650.54,1604.12 651.71,1600.09 652.95,1596.06 C654.19,1592.03 655.47,1588 656.81,1583.97 C658.15,1579.94 659.53,1575.91 661,1571.88 C662.47,1567.85 664,1563.81 665.61,1559.78 C667.22,1555.75 668.69,1551.72 670.67,1547.69 C672.65,1543.66 674.44,1538.85 677.5,1535.6 C680.56,1532.35 685.43,1528.47 689,1528.2 C692.57,1527.93 696.03,1531.02 698.9,1534 C701.76,1536.98 704.16,1542.04 706.19,1546.06 C708.23,1550.08 709.54,1554.1 711.11,1558.12 C712.68,1562.14 714.17,1566.16 715.6,1570.18 C717.03,1574.2 718.38,1578.22 719.68,1582.24 C720.98,1586.26 722.23,1590.28 723.42,1594.3 C724.61,1598.32 725.74,1602.34 726.83,1606.36 C727.92,1610.38 728.96,1614.4 729.96,1618.42 C730.97,1622.44 731.93,1626.45 732.86,1630.47 C733.79,1634.49 734.67,1638.51 735.54,1642.53 C736.4,1646.55 737.24,1650.57 738.05,1654.59 C738.86,1658.61 739.65,1662.63 740.42,1666.65 C741.19,1670.67 741.93,1674.69 742.67,1678.71 C743.41,1682.73 744.13,1686.75 744.84,1690.77 C745.55,1694.79 746.25,1698.81 746.95,1702.83 C747.65,1706.85 748.33,1710.87 749.02,1714.89 C749.71,1718.91 750.4,1722.93 751.09,1726.95 C751.78,1730.97 752.47,1734.99 753.17,1739.01 C753.87,1743.03 754.58,1747.05 755.29,1751.07 C756,1755.09 756.72,1759.11 757.45,1763.13 C758.18,1767.15 758.93,1771.17 759.69,1775.19 C760.45,1779.21 761.22,1783.23 762.01,1787.25 C762.8,1791.27 763.6,1795.29 764.43,1799.31 C765.25,1803.33 766.1,1807.35 766.96,1811.37 C767.83,1815.39 768.71,1819.41 769.62,1823.43 C770.53,1827.45 771.45,1831.46 772.4,1835.48 C773.35,1839.5 774.33,1843.52 775.33,1847.54 C776.33,1851.56 777.35,1855.58 778.4,1859.6 C779.45,1863.62 780.52,1867.64 781.62,1871.66 C782.72,1875.68 783.85,1879.7 785,1883.72 C786.15,1887.74 787.33,1891.76 788.53,1895.78 C789.73,1899.8 790.78,1903.82 792.21,1907.84 C793.64,1911.86 794.62,1916.21 797.1,1919.9 C799.58,1923.59 803.6,1926.48 807.1,1930 C810.6,1933.52 814.43,1938.07 818.1,1941 C821.77,1943.93 824.88,1946.13 829.1,1947.6 C833.32,1949.07 839.18,1949.62 843.4,1949.8 C847.62,1949.98 850.73,1949.62 854.4,1948.7 C858.07,1947.78 860.02,1945.92 865.4,1944.3 C870.78,1942.68 879.27,1941.55 886.7,1939 C894.13,1936.45 902.23,1931.5 910,1929 C917.77,1926.5 925.52,1923.83 933.3,1924 C941.08,1924.17 950.03,1928.17 956.7,1930 C963.37,1931.83 967.75,1933.88 973.3,1935 C978.85,1936.12 984.43,1936.15 990,1936.7 C995.57,1937.25 1001.7,1937.2 1006.7,1938.3 C1011.7,1939.4 1016.12,1940.8 1020,1943.3 C1023.88,1945.8 1026.67,1949.97 1030,1953.3 C1033.33,1956.63 1036.95,1960.18 1040,1963.3 C1043.05,1966.42 1044.97,1967.9 1048.3,1972 C1051.63,1976.1 1056.68,1983.05 1060,1987.9 C1063.32,1992.75 1065.45,1996.98 1068.2,2001.1 C1070.95,2005.22 1073.47,2008.48 1076.5,2012.6 C1079.53,2016.72 1082.83,2021.27 1086.4,2025.8 C1089.97,2030.33 1094.07,2035.68 1097.9,2039.8 C1101.73,2043.92 1104.73,2046.78 1109.4,2050.5 C1114.07,2054.22 1120.4,2058.8 1125.9,2062.1 C1131.4,2065.4 1136.9,2067.55 1142.4,2070.3 C1147.9,2073.05 1153.4,2076.12 1158.9,2078.6 C1164.4,2081.08 1169.9,2083.28 1175.4,2085.2 C1180.9,2087.12 1186.42,2088.6 1191.9,2090.1 C1197.38,2091.6 1202.82,2092.83 1208.3,2094.2 C1213.78,2095.57 1219.52,2097.17 1224.8,2098.3 C1230.08,2099.43 1233.33,2099.7 1240,2101 C1246.67,2102.3 1254.87,2104.38 1264.8,2106.1 C1274.73,2107.82 1288,2110 1299.6,2111.3 C1311.2,2112.6 1316,2113.23 1334.4,2113.9 C1352.8,2114.57 1397.4,2115.07 1410,2115.3" fill="none" stroke="#0000ff" stroke-width="5.0" stroke-linejoin="round" stroke-linecap="butt"/>
</g>
<rect x="247.6" y="1184" width="1163.15" height="936.3" fill="none" stroke="#000" stroke-width="4.4"/>
<line x1="247.6" y1="2120.3" x2="247.6" y2="2136.5" stroke="#000" stroke-width="4.4" stroke-linecap="butt"/>
<line x1="247.6" y1="1184" x2="247.6" y2="1202.7" stroke="#000" stroke-width="4.4" stroke-linecap="butt"/>
<line x1="392.99" y1="2120.3" x2="392.99" y2="2129" stroke="#000" stroke-width="4.4" stroke-linecap="butt"/>
<line x1="392.99" y1="1184" x2="392.99" y2="1194.2" stroke="#000" stroke-width="4.4" stroke-linecap="butt"/>
<line x1="538.39" y1="2120.3" x2="538.39" y2="2136.5" stroke="#000" stroke-width="4.4" stroke-linecap="butt"/>
<line x1="538.39" y1="1184" x2="538.39" y2="1202.7" stroke="#000" stroke-width="4.4" stroke-linecap="butt"/>
<line x1="683.78" y1="2120.3" x2="683.78" y2="2129" stroke="#000" stroke-width="4.4" stroke-linecap="butt"/>
<line x1="683.78" y1="1184" x2="683.78" y2="1194.2" stroke="#000" stroke-width="4.4" stroke-linecap="butt"/>
<line x1="829.18" y1="2120.3" x2="829.18" y2="2136.5" stroke="#000" stroke-width="4.4" stroke-linecap="butt"/>
<line x1="829.18" y1="1184" x2="829.18" y2="1202.7" stroke="#000" stroke-width="4.4" stroke-linecap="butt"/>
<line x1="974.57" y1="2120.3" x2="974.57" y2="2129" stroke="#000" stroke-width="4.4" stroke-linecap="butt"/>
<line x1="974.57" y1="1184" x2="974.57" y2="1194.2" stroke="#000" stroke-width="4.4" stroke-linecap="butt"/>
<line x1="1119.96" y1="2120.3" x2="1119.96" y2="2136.5" stroke="#000" stroke-width="4.4" stroke-linecap="butt"/>
<line x1="1119.96" y1="1184" x2="1119.96" y2="1202.7" stroke="#000" stroke-width="4.4" stroke-linecap="butt"/>
<line x1="1265.36" y1="2120.3" x2="1265.36" y2="2129" stroke="#000" stroke-width="4.4" stroke-linecap="butt"/>
<line x1="1265.36" y1="1184" x2="1265.36" y2="1194.2" stroke="#000" stroke-width="4.4" stroke-linecap="butt"/>
<line x1="1410.75" y1="2120.3" x2="1410.75" y2="2136.5" stroke="#000" stroke-width="4.4" stroke-linecap="butt"/>
<line x1="1410.75" y1="1184" x2="1410.75" y2="1202.7" stroke="#000" stroke-width="4.4" stroke-linecap="butt"/>
<line x1="238.4" y1="1184" x2="247.6" y2="1184" stroke="#000" stroke-width="4.4" stroke-linecap="butt"/>
<line x1="1391.55" y1="1184" x2="1410.75" y2="1184" stroke="#000" stroke-width="4.4" stroke-linecap="butt"/>
<line x1="238.4" y1="1262.03" x2="247.6" y2="1262.03" stroke="#000" stroke-width="4.4" stroke-linecap="butt"/>
<line x1="1401.55" y1="1262.03" x2="1410.75" y2="1262.03" stroke="#000" stroke-width="4.4" stroke-linecap="butt"/>
<line x1="238.4" y1="1340.05" x2="247.6" y2="1340.05" stroke="#000" stroke-width="4.4" stroke-linecap="butt"/>
<line x1="1391.55" y1="1340.05" x2="1410.75" y2="1340.05" stroke="#000" stroke-width="4.4" stroke-linecap="butt"/>
<line x1="238.4" y1="1418.08" x2="247.6" y2="1418.08" stroke="#000" stroke-width="4.4" stroke-linecap="butt"/>
<line x1="1401.55" y1="1418.08" x2="1410.75" y2="1418.08" stroke="#000" stroke-width="4.4" stroke-linecap="butt"/>
<line x1="238.4" y1="1496.1" x2="247.6" y2="1496.1" stroke="#000" stroke-width="4.4" stroke-linecap="butt"/>
<line x1="1391.55" y1="1496.1" x2="1410.75" y2="1496.1" stroke="#000" stroke-width="4.4" stroke-linecap="butt"/>
<line x1="238.4" y1="1574.12" x2="247.6" y2="1574.12" stroke="#000" stroke-width="4.4" stroke-linecap="butt"/>
<line x1="1401.55" y1="1574.12" x2="1410.75" y2="1574.12" stroke="#000" stroke-width="4.4" stroke-linecap="butt"/>
<line x1="238.4" y1="1652.15" x2="247.6" y2="1652.15" stroke="#000" stroke-width="4.4" stroke-linecap="butt"/>
<line x1="1391.55" y1="1652.15" x2="1410.75" y2="1652.15" stroke="#000" stroke-width="4.4" stroke-linecap="butt"/>
<line x1="238.4" y1="1730.18" x2="247.6" y2="1730.18" stroke="#000" stroke-width="4.4" stroke-linecap="butt"/>
<line x1="1401.55" y1="1730.18" x2="1410.75" y2="1730.18" stroke="#000" stroke-width="4.4" stroke-linecap="butt"/>
<line x1="238.4" y1="1808.2" x2="247.6" y2="1808.2" stroke="#000" stroke-width="4.4" stroke-linecap="butt"/>
<line x1="1391.55" y1="1808.2" x2="1410.75" y2="1808.2" stroke="#000" stroke-width="4.4" stroke-linecap="butt"/>
<line x1="238.4" y1="1886.22" x2="247.6" y2="1886.22" stroke="#000" stroke-width="4.4" stroke-linecap="butt"/>
<line x1="1401.55" y1="1886.22" x2="1410.75" y2="1886.22" stroke="#000" stroke-width="4.4" stroke-linecap="butt"/>
<line x1="238.4" y1="1964.25" x2="247.6" y2="1964.25" stroke="#000" stroke-width="4.4" stroke-linecap="butt"/>
<line x1="1391.55" y1="1964.25" x2="1410.75" y2="1964.25" stroke="#000" stroke-width="4.4" stroke-linecap="butt"/>
<line x1="238.4" y1="2042.28" x2="247.6" y2="2042.28" stroke="#000" stroke-width="4.4" stroke-linecap="butt"/>
<line x1="1401.55" y1="2042.28" x2="1410.75" y2="2042.28" stroke="#000" stroke-width="4.4" stroke-linecap="butt"/>
<line x1="238.4" y1="2120.3" x2="247.6" y2="2120.3" stroke="#000" stroke-width="4.4" stroke-linecap="butt"/>
<line x1="1391.55" y1="2120.3" x2="1410.75" y2="2120.3" stroke="#000" stroke-width="4.4" stroke-linecap="butt"/>
<text transform="translate(561.05,1152.56) scale(1.0121,1)" style="font-size:69.87px;font-kerning:none" fill="#000" >Wavelength (nm)</text>
<text transform="translate(561.05,2299.66) scale(1.0121,1)" style="font-size:69.87px;font-kerning:none" fill="#000" >Wavelength (nm)</text>
<rect x="247.6" y="2311.6" width="1163.4" height="935.7000000000003" fill="#fff"/>
<clipPath id="clipc"><rect x="247.6" y="2311.6" width="1163.4" height="935.7"/></clipPath>
<g clip-path="url(#clipc)">
<path d="M248.3,3110 C249,3107.5 250.68,3096.38 252.5,3095 C254.32,3093.62 257.67,3097.2 259.2,3101.7 C260.73,3106.2 260.73,3120.28 261.7,3122 C262.67,3123.72 264.03,3116.1 265,3112 C265.97,3107.9 265.62,3101.67 267.5,3097.4 C269.38,3093.13 273.55,3091.9 276.3,3086.4 C279.05,3080.9 282.17,3074.47 284,3064.4 C285.83,3054.33 286.22,3030.58 287.3,3026 C288.38,3021.42 289.05,3035.57 290.5,3036.9 C291.95,3038.23 294.35,3034 296,3034 C297.65,3034 299.48,3040.98 300.4,3036.9 C301.32,3032.82 300.57,3013.32 301.5,3009.5 C302.43,3005.68 304.53,3012.73 306,3014 C307.47,3015.27 308.8,3018.1 310.3,3017.1 C311.8,3016.1 313.53,3010.55 315,3008 C316.47,3005.45 318.05,3003.75 319.1,3001.8 C320.15,2999.85 320.02,2998.5 321.3,2996.3 C322.58,2994.1 325.18,2989.65 326.8,2988.6 C328.42,2987.55 329.53,2989.45 331,2990 C332.47,2990.55 334.47,2992.5 335.6,2991.9 C336.73,2991.3 336.9,2987.05 337.8,2986.4 C338.7,2985.75 339.72,2987.45 341,2988 C342.28,2988.55 344.02,2990.7 345.5,2989.7 C346.98,2988.7 348.25,2984.57 349.9,2982 C351.55,2979.43 353.72,2976.87 355.4,2974.3 C357.08,2971.73 358.12,2968.43 360,2966.6 C361.88,2964.77 363.92,2965.23 366.7,2963.3 C369.48,2961.37 373.37,2957.5 376.7,2955 C380.03,2952.5 382.82,2949.97 386.7,2948.3 C390.58,2946.63 395,2945.55 400,2945 C405,2944.45 411.15,2945.28 416.7,2945 C422.25,2944.72 427.75,2943.85 433.3,2943.3 C438.85,2942.75 444.43,2942.53 450,2941.7 C455.57,2940.87 460.67,2939.72 466.7,2938.3 C472.73,2936.88 480.58,2935.07 486.2,2933.2 C491.82,2931.33 495.65,2929.38 500.4,2927.1 C505.15,2924.82 510.3,2922.05 514.7,2919.5 C519.1,2916.95 523.13,2914.92 526.8,2911.8 C530.47,2908.68 533.58,2904.65 536.7,2900.8 C539.82,2896.95 542.57,2892.92 545.5,2888.7 C548.43,2884.48 551.83,2879.95 554.3,2875.5 C556.77,2871.05 558.61,2866.25 560.3,2862 C561.99,2857.75 563.23,2853.99 564.44,2849.98 C565.66,2845.97 566.55,2841.97 567.59,2837.96 C568.63,2833.95 569.66,2829.94 570.68,2825.93 C571.7,2821.92 572.7,2817.92 573.7,2813.91 C574.7,2809.9 575.68,2805.9 576.66,2801.89 C577.63,2797.88 578.6,2793.88 579.55,2789.87 C580.5,2785.86 581.44,2781.85 582.36,2777.84 C583.28,2773.83 584.19,2769.83 585.09,2765.82 C585.99,2761.81 586.87,2757.81 587.74,2753.8 C588.61,2749.79 589.47,2745.79 590.32,2741.78 C591.17,2737.77 592,2733.77 592.82,2729.76 C593.64,2725.75 594.45,2721.74 595.25,2717.73 C596.05,2713.72 596.84,2709.72 597.61,2705.71 C598.38,2701.7 599.14,2697.7 599.9,2693.69 C600.65,2689.68 601.4,2685.68 602.14,2681.67 C602.88,2677.66 603.6,2673.65 604.32,2669.64 C605.04,2665.63 605.75,2661.63 606.46,2657.62 C607.17,2653.61 607.87,2649.61 608.57,2645.6 C609.27,2641.59 609.96,2637.59 610.65,2633.58 C611.34,2629.57 612.03,2625.57 612.72,2621.56 C613.41,2617.55 614.09,2613.54 614.78,2609.53 C615.47,2605.52 616.16,2601.52 616.86,2597.51 C617.56,2593.5 618.25,2589.5 618.96,2585.49 C619.67,2581.48 620.38,2577.48 621.11,2573.47 C621.84,2569.46 622.57,2565.45 623.32,2561.44 C624.07,2557.43 624.82,2553.43 625.6,2549.42 C626.38,2545.41 627.17,2541.41 627.98,2537.4 C628.79,2533.39 629.62,2529.39 630.47,2525.38 C631.32,2521.37 632.2,2517.37 633.1,2513.36 C634,2509.35 634.93,2505.34 635.89,2501.33 C636.85,2497.32 637.83,2493.32 638.85,2489.31 C639.87,2485.3 640.93,2481.3 642.03,2477.29 C643.13,2473.28 644.25,2469.28 645.43,2465.27 C646.61,2461.26 647.82,2457.25 649.09,2453.24 C650.36,2449.23 651.38,2445.23 653.03,2441.22 C654.68,2437.21 656.72,2431.95 659,2429.2 C661.28,2426.45 664.13,2424.05 666.7,2424.7 C669.27,2425.35 672.21,2429.68 674.4,2433.1 C676.59,2436.51 678.37,2441.16 679.84,2445.19 C681.31,2449.22 682.14,2453.26 683.22,2457.29 C684.3,2461.32 685.33,2465.35 686.33,2469.38 C687.33,2473.41 688.28,2477.44 689.2,2481.47 C690.12,2485.5 690.99,2489.53 691.84,2493.56 C692.69,2497.59 693.5,2501.63 694.28,2505.66 C695.06,2509.69 695.82,2513.72 696.55,2517.75 C697.28,2521.78 697.97,2525.81 698.65,2529.84 C699.33,2533.87 699.98,2537.91 700.61,2541.94 C701.24,2545.97 701.86,2550 702.45,2554.03 C703.04,2558.06 703.61,2562.09 704.17,2566.12 C704.73,2570.15 705.27,2574.18 705.81,2578.21 C706.34,2582.24 706.87,2586.28 707.38,2590.31 C707.89,2594.34 708.39,2598.37 708.88,2602.4 C709.37,2606.43 709.85,2610.46 710.33,2614.49 C710.81,2618.52 711.28,2622.56 711.75,2626.59 C712.22,2630.62 712.68,2634.65 713.14,2638.68 C713.6,2642.71 714.06,2646.74 714.52,2650.77 C714.98,2654.8 715.44,2658.83 715.9,2662.86 C716.36,2666.89 716.82,2670.93 717.28,2674.96 C717.74,2678.99 718.2,2683.02 718.67,2687.05 C719.14,2691.08 719.61,2695.11 720.09,2699.14 C720.57,2703.17 721.05,2707.21 721.53,2711.24 C722.01,2715.27 722.5,2719.3 722.99,2723.33 C723.49,2727.36 723.99,2731.39 724.5,2735.42 C725.01,2739.45 725.52,2743.48 726.04,2747.51 C726.56,2751.54 727.09,2755.58 727.62,2759.61 C728.15,2763.64 728.69,2767.67 729.24,2771.7 C729.79,2775.73 730.35,2779.76 730.91,2783.79 C731.47,2787.82 732.03,2791.86 732.61,2795.89 C733.19,2799.92 733.77,2803.95 734.36,2807.98 C734.95,2812.01 735.54,2816.04 736.14,2820.07 C736.74,2824.1 737.35,2828.13 737.96,2832.16 C738.57,2836.19 739.18,2840.23 739.8,2844.26 C740.42,2848.29 741.04,2852.32 741.67,2856.35 C742.3,2860.38 742.93,2864.41 743.56,2868.44 C744.19,2872.47 744.84,2876.51 745.47,2880.54 C746.11,2884.57 746.74,2888.6 747.37,2892.63 C748,2896.66 748.64,2900.69 749.27,2904.72 C749.9,2908.75 750.53,2912.78 751.16,2916.81 C751.78,2920.84 752.21,2924.88 753.02,2928.91 C753.83,2932.94 753.72,2932.93 756,2941 C758.28,2949.07 763.25,2966.25 766.7,2977.3 C770.15,2988.35 772.82,2998.35 776.7,3007.3 C780.58,3016.25 785.57,3025.35 790,3031 C794.43,3036.65 798.3,3039.15 803.3,3041.2 C808.3,3043.25 814.43,3044 820,3043.3 C825.57,3042.6 831.15,3039.72 836.7,3037 C842.25,3034.28 847.75,3030.95 853.3,3027 C858.85,3023.05 864.43,3018.35 870,3013.3 C875.57,3008.25 880.58,3002.25 886.7,2996.7 C892.82,2991.15 900.6,2985.28 906.7,2980 C912.8,2974.72 917.75,2971.12 923.3,2965 C928.85,2958.88 934.43,2949.42 940,2943.3 C945.57,2937.18 951.15,2930.52 956.7,2928.3 C962.25,2926.08 968.3,2928.33 973.3,2930 C978.3,2931.67 982.25,2935.97 986.7,2938.3 C991.15,2940.63 995.57,2943.6 1000,2944 C1004.43,2944.4 1008.3,2941.48 1013.3,2940.7 C1018.3,2939.92 1025,2937.75 1030,2939.3 C1035,2940.85 1039.42,2944.88 1043.3,2950 C1047.18,2955.12 1050.23,2961.67 1053.3,2970 C1056.37,2978.33 1058.92,2989.45 1061.7,3000 C1064.48,3010.55 1067.23,3022.18 1070,3033.3 C1072.77,3044.42 1075.52,3055.58 1078.3,3066.7 C1081.08,3077.82 1083.63,3089.45 1086.7,3100 C1089.77,3110.55 1092.82,3120 1096.7,3130 C1100.58,3140 1106.12,3152.08 1110,3160 C1113.88,3167.92 1116.05,3172.3 1120,3177.5 C1123.95,3182.7 1129.12,3187.08 1133.7,3191.2 C1138.28,3195.32 1141.53,3198.53 1147.5,3202.2 C1153.47,3205.87 1162.18,3210.22 1169.5,3213.2 C1176.82,3216.18 1183.62,3218.05 1191.4,3220.1 C1199.18,3222.15 1207.5,3223.9 1216.2,3225.5 C1224.9,3227.1 1234.45,3228.45 1243.6,3229.7 C1252.75,3230.95 1259.65,3231.87 1271.1,3233 C1282.55,3234.13 1298.57,3235.58 1312.3,3236.5 C1326.03,3237.42 1339.77,3237.8 1353.5,3238.5 C1367.23,3239.2 1385.32,3240.8 1394.7,3240.7 C1404.08,3240.6 1407.28,3238.37 1409.8,3237.9" fill="none" stroke="#000000" stroke-width="5.0" stroke-linejoin="round" stroke-linecap="butt"/>
<path d="M247.7,3207.3 C248.25,3204.08 249.9,3193.5 251,3188 C252.1,3182.5 252.65,3179.33 254.3,3174.3 C255.95,3169.27 259.62,3152.3 260.9,3157.8 C262.18,3163.3 260.9,3200.88 262,3207.3 C263.1,3213.72 265.67,3200.88 267.5,3196.3 C269.33,3191.72 270.8,3185.3 273,3179.8 C275.2,3174.3 278.5,3170.63 280.7,3163.3 C282.9,3155.97 284.38,3143.13 286.2,3135.8 C288.02,3128.47 289.78,3124.78 291.6,3119.3 C293.42,3113.82 294.72,3107.47 297.1,3102.9 C299.48,3098.33 303.7,3095.57 305.9,3091.9 C308.1,3088.23 308.47,3082.73 310.3,3080.9 C312.13,3079.07 314.7,3082.73 316.9,3080.9 C319.1,3079.07 321.3,3071.18 323.5,3069.9 C325.7,3068.62 327.53,3072.1 330.1,3073.2 C332.67,3074.3 335.6,3074.3 338.9,3076.5 C342.2,3078.7 346.38,3085.67 349.9,3086.4 C353.42,3087.13 356.65,3081.97 360,3080.9 C363.35,3079.83 366.12,3079.32 370,3080 C373.88,3080.68 378.85,3083.62 383.3,3085 C387.75,3086.38 391.7,3085.8 396.7,3088.3 C401.7,3090.8 407.75,3096.38 413.3,3100 C418.85,3103.62 424.43,3106.67 430,3110 C435.57,3113.33 440.58,3116.67 446.7,3120 C452.82,3123.33 460.03,3127.67 466.7,3130 C473.37,3132.33 480.03,3133.33 486.7,3134 C493.37,3134.67 500.03,3134.38 506.7,3134 C513.37,3133.62 520.03,3132.92 526.7,3131.7 C533.37,3130.48 540.03,3128.93 546.7,3126.7 C553.37,3124.47 560.6,3121.63 566.7,3118.3 C572.8,3114.97 577.32,3113.42 583.3,3106.7 C589.28,3099.98 597.92,3084.98 602.6,3078 C607.28,3071.02 608.1,3069.73 611.4,3064.8 C614.7,3059.87 618.73,3054.25 622.4,3048.4 C626.07,3042.55 629.73,3036.12 633.4,3029.7 C637.07,3023.28 639.97,3017.35 644.4,3009.9 C648.83,3002.45 654.62,2992.1 660,2985 C665.38,2977.9 670.87,2971.63 676.7,2967.3 C682.53,2962.97 689.45,2959.55 695,2959 C700.55,2958.45 705.28,2959.83 710,2964 C714.72,2968.17 718.85,2976.22 723.3,2984 C727.75,2991.78 732.25,3000.7 736.7,3010.7 C741.15,3020.7 745.57,3032.9 750,3044 C754.43,3055.1 758.85,3066.75 763.3,3077.3 C767.75,3087.85 772.25,3099.07 776.7,3107.3 C781.15,3115.53 786.12,3120.42 790,3126.7 C793.88,3132.98 795,3139.73 800,3145 C805,3150.27 812.22,3155.25 820,3158.3 C827.78,3161.35 836.7,3162.35 846.7,3163.3 C856.7,3164.25 867.78,3164.27 880,3164 C892.22,3163.73 908.88,3161.37 920,3161.7 C931.12,3162.03 937.82,3164.5 946.7,3166 C955.58,3167.5 963.3,3169.48 973.3,3170.7 C983.3,3171.92 997.8,3171.47 1006.7,3173.3 C1015.6,3175.13 1020.03,3178.63 1026.7,3181.7 C1033.37,3184.77 1038.93,3188.37 1046.7,3191.7 C1054.47,3195.03 1064.42,3198.93 1073.3,3201.7 C1082.18,3204.47 1092.22,3206.62 1100,3208.3 C1107.78,3209.98 1112.08,3210.07 1120,3211.8 C1127.92,3213.53 1138.35,3216.63 1147.5,3218.7 C1156.65,3220.77 1165.75,3222.47 1174.9,3224.2 C1184.05,3225.93 1193.23,3227.73 1202.4,3229.1 C1211.57,3230.47 1220.73,3231.48 1229.9,3232.4 C1239.07,3233.32 1248.25,3233.92 1257.4,3234.6 C1266.55,3235.28 1275.65,3235.95 1284.8,3236.5 C1293.95,3237.05 1303.13,3237.43 1312.3,3237.9 C1321.47,3238.37 1330.63,3238.93 1339.8,3239.3 C1348.97,3239.67 1355.63,3240.1 1367.3,3240.1 C1378.97,3240.1 1402.72,3239.43 1409.8,3239.3" fill="none" stroke="#ff0000" stroke-width="5.0" stroke-linejoin="round" stroke-linecap="butt"/>
<path d="M248.8,3163.3 C249.5,3163.92 251.72,3166.08 253,3167 C254.28,3167.92 255.55,3174 256.5,3168.8 C257.45,3163.6 257.42,3143.13 258.7,3135.8 C259.98,3128.47 262.82,3124.1 264.2,3124.8 C265.58,3125.5 266.27,3129 267,3140 C267.73,3151 267.97,3191.5 268.6,3190.8 C269.23,3190.1 269.57,3144.27 270.8,3135.8 C272.03,3127.33 274.17,3138.17 276,3140 C277.83,3141.83 280.47,3149.33 281.8,3146.8 C283.13,3144.27 283.27,3132.12 284,3124.8 C284.73,3117.48 285.28,3109.3 286.2,3102.9 C287.12,3096.5 288.37,3088.22 289.5,3086.4 C290.63,3084.58 291.92,3090.17 293,3092 C294.08,3093.83 294.58,3099.25 296,3097.4 C297.42,3095.55 300.4,3086.4 301.5,3080.9 C302.6,3075.4 301.5,3068.98 302.6,3064.4 C303.7,3059.82 306.45,3057.07 308.1,3053.4 C309.75,3049.73 311.03,3045.15 312.5,3042.4 C313.97,3039.65 314.7,3038.55 316.9,3036.9 C319.1,3035.25 322.4,3032.87 325.7,3032.5 C329,3032.13 333.58,3033.97 336.7,3034.7 C339.82,3035.43 342.2,3035.8 344.4,3036.9 C346.6,3038 348.07,3041.3 349.9,3041.3 C351.73,3041.3 353.72,3038.37 355.4,3036.9 C357.08,3035.43 358.68,3033.65 360,3032.5 C361.32,3031.35 360.52,3030.97 363.3,3030 C366.08,3029.03 372.8,3026.7 376.7,3026.7 C380.6,3026.7 382.82,3028.33 386.7,3030 C390.58,3031.67 395.57,3033.65 400,3036.7 C404.43,3039.75 408.3,3043.87 413.3,3048.3 C418.3,3052.73 424.43,3058.57 430,3063.3 C435.57,3068.03 441.15,3072.25 446.7,3076.7 C452.25,3081.15 457.75,3086.67 463.3,3090 C468.85,3093.33 474.43,3095.42 480,3096.7 C485.57,3097.98 490.58,3098.53 496.7,3097.7 C502.82,3096.87 510.03,3094.1 516.7,3091.7 C523.37,3089.3 531.9,3085.77 536.7,3083.3 C541.5,3080.83 542.2,3079.25 545.5,3076.9 C548.8,3074.55 552.83,3072.5 556.5,3069.2 C560.17,3065.9 564.2,3061.48 567.5,3057.1 C570.8,3052.72 573.55,3048.02 576.3,3042.9 C579.05,3037.78 581.45,3032.82 584,3026.4 C586.55,3019.98 589.05,3011.18 591.6,3004.4 C594.15,2997.62 597.19,2990.9 599.3,2985.7 C601.41,2980.5 602.69,2977.37 604.25,2973.21 C605.81,2969.05 607.26,2964.89 608.68,2960.73 C610.1,2956.57 611.45,2952.4 612.76,2948.24 C614.07,2944.08 615.32,2939.91 616.53,2935.75 C617.74,2931.59 618.9,2927.43 620.03,2923.27 C621.16,2919.11 622.25,2914.94 623.31,2910.78 C624.37,2906.62 625.39,2902.45 626.4,2898.29 C627.41,2894.13 628.39,2889.96 629.36,2885.8 C630.33,2881.64 631.27,2877.48 632.21,2873.32 C633.15,2869.16 634.07,2864.99 635,2860.83 C635.93,2856.67 636.85,2852.5 637.78,2848.34 C638.71,2844.18 639.63,2840.02 640.57,2835.86 C641.51,2831.7 642.46,2827.53 643.43,2823.37 C644.4,2819.21 645.39,2815.04 646.4,2810.88 C647.41,2806.72 648.44,2802.56 649.51,2798.4 C650.58,2794.24 651.66,2790.07 652.8,2785.91 C653.93,2781.75 655.1,2777.58 656.32,2773.42 C657.54,2769.26 658.8,2765.09 660.11,2760.93 C661.42,2756.77 662.78,2752.61 664.2,2748.45 C665.62,2744.29 667.09,2740.12 668.63,2735.96 C670.17,2731.8 671.77,2727.63 673.45,2723.47 C675.13,2719.31 676.78,2715.15 678.69,2710.99 C680.6,2706.83 682.8,2701.66 684.9,2698.5 C687,2695.34 688.32,2693.5 691.3,2692 C694.28,2690.5 699.82,2689.28 702.8,2689.5 C705.78,2689.72 707.22,2690.6 709.2,2693.3 C711.18,2696 712.92,2701.56 714.67,2705.69 C716.42,2709.82 718.12,2713.94 719.72,2718.07 C721.32,2722.2 722.84,2726.32 724.29,2730.45 C725.74,2734.58 727.11,2738.71 728.42,2742.84 C729.73,2746.97 730.96,2751.1 732.14,2755.23 C733.32,2759.36 734.43,2763.48 735.49,2767.61 C736.55,2771.74 737.55,2775.86 738.52,2779.99 C739.49,2784.12 740.4,2788.25 741.28,2792.38 C742.16,2796.51 742.99,2800.64 743.8,2804.77 C744.61,2808.9 745.38,2813.02 746.13,2817.15 C746.88,2821.28 747.61,2825.4 748.33,2829.53 C749.05,2833.66 749.73,2837.79 750.43,2841.92 C751.12,2846.05 751.81,2850.18 752.5,2854.31 C753.19,2858.44 753.88,2862.56 754.58,2866.69 C755.28,2870.82 755.99,2874.94 756.72,2879.07 C757.46,2883.2 758.2,2887.33 758.99,2891.46 C759.78,2895.59 760.59,2899.72 761.44,2903.85 C762.3,2907.98 763.18,2912.1 764.12,2916.23 C765.06,2920.36 766.03,2924.48 767.09,2928.61 C768.15,2932.74 768.07,2932.32 770.5,2941 C772.93,2949.68 777.9,2967.42 781.7,2980.7 C785.5,2993.98 789.13,3007.48 793.3,3020.7 C797.47,3033.92 802.25,3050.4 806.7,3060 C811.15,3069.6 814.45,3074.13 820,3078.3 C825.55,3082.47 833.33,3083.6 840,3085 C846.67,3086.4 853.33,3086.98 860,3086.7 C866.67,3086.42 873.33,3084.42 880,3083.3 C886.67,3082.18 893.33,3081.1 900,3080 C906.67,3078.9 913.88,3076.7 920,3076.7 C926.12,3076.7 930.58,3078.07 936.7,3080 C942.82,3081.93 949.48,3085.8 956.7,3088.3 C963.92,3090.8 971.67,3093.5 980,3095 C988.33,3096.5 1000.03,3095.92 1006.7,3097.3 C1013.37,3098.68 1015.57,3099.52 1020,3103.3 C1024.43,3107.08 1028.3,3114.17 1033.3,3120 C1038.3,3125.83 1044.43,3133.02 1050,3138.3 C1055.57,3143.58 1060.58,3147.8 1066.7,3151.7 C1072.82,3155.6 1080.03,3158.77 1086.7,3161.7 C1093.37,3164.63 1101.15,3167.13 1106.7,3169.3 C1112.25,3171.47 1113.2,3171.73 1120,3174.7 C1126.8,3177.67 1138.35,3182.97 1147.5,3187.1 C1156.65,3191.23 1165.75,3195.83 1174.9,3199.5 C1184.05,3203.17 1193.23,3206.37 1202.4,3209.1 C1211.57,3211.83 1220.73,3213.62 1229.9,3215.9 C1239.07,3218.18 1248.25,3220.83 1257.4,3222.8 C1266.55,3224.77 1275.65,3226.33 1284.8,3227.7 C1293.95,3229.07 1303.13,3229.98 1312.3,3231 C1321.47,3232.02 1330.63,3233.33 1339.8,3233.8 C1348.97,3234.27 1359.07,3233.2 1367.3,3233.8 C1375.53,3234.4 1382.8,3237.63 1389.2,3237.4 C1395.6,3237.17 1402.27,3232.77 1405.7,3232.4 C1409.13,3232.03 1409.12,3234.73 1409.8,3235.2" fill="none" stroke="#0000ff" stroke-width="5.0" stroke-linejoin="round" stroke-linecap="butt"/>
</g>
<rect x="247.6" y="2311.6" width="1163.4" height="935.7" fill="none" stroke="#000" stroke-width="4.4"/>
<line x1="247.6" y1="3247.3" x2="247.6" y2="3263.5" stroke="#000" stroke-width="4.4" stroke-linecap="butt"/>
<line x1="247.6" y1="2311.6" x2="247.6" y2="2329.8" stroke="#000" stroke-width="4.4" stroke-linecap="butt"/>
<line x1="393.02" y1="3247.3" x2="393.02" y2="3256" stroke="#000" stroke-width="4.4" stroke-linecap="butt"/>
<line x1="393.02" y1="2311.6" x2="393.02" y2="2320.3" stroke="#000" stroke-width="4.4" stroke-linecap="butt"/>
<line x1="538.45" y1="3247.3" x2="538.45" y2="3263.5" stroke="#000" stroke-width="4.4" stroke-linecap="butt"/>
<line x1="538.45" y1="2311.6" x2="538.45" y2="2329.8" stroke="#000" stroke-width="4.4" stroke-linecap="butt"/>
<line x1="683.88" y1="3247.3" x2="683.88" y2="3256" stroke="#000" stroke-width="4.4" stroke-linecap="butt"/>
<line x1="683.88" y1="2311.6" x2="683.88" y2="2320.3" stroke="#000" stroke-width="4.4" stroke-linecap="butt"/>
<line x1="829.3" y1="3247.3" x2="829.3" y2="3263.5" stroke="#000" stroke-width="4.4" stroke-linecap="butt"/>
<line x1="829.3" y1="2311.6" x2="829.3" y2="2329.8" stroke="#000" stroke-width="4.4" stroke-linecap="butt"/>
<line x1="974.73" y1="3247.3" x2="974.73" y2="3256" stroke="#000" stroke-width="4.4" stroke-linecap="butt"/>
<line x1="974.73" y1="2311.6" x2="974.73" y2="2320.3" stroke="#000" stroke-width="4.4" stroke-linecap="butt"/>
<line x1="1120.15" y1="3247.3" x2="1120.15" y2="3263.5" stroke="#000" stroke-width="4.4" stroke-linecap="butt"/>
<line x1="1120.15" y1="2311.6" x2="1120.15" y2="2329.8" stroke="#000" stroke-width="4.4" stroke-linecap="butt"/>
<line x1="1265.58" y1="3247.3" x2="1265.58" y2="3256" stroke="#000" stroke-width="4.4" stroke-linecap="butt"/>
<line x1="1265.58" y1="2311.6" x2="1265.58" y2="2320.3" stroke="#000" stroke-width="4.4" stroke-linecap="butt"/>
<line x1="1411" y1="3247.3" x2="1411" y2="3263.5" stroke="#000" stroke-width="4.4" stroke-linecap="butt"/>
<line x1="1411" y1="2311.6" x2="1411" y2="2329.8" stroke="#000" stroke-width="4.4" stroke-linecap="butt"/>
<line x1="230.4" y1="2311.6" x2="247.6" y2="2311.6" stroke="#000" stroke-width="4.4" stroke-linecap="butt"/>
<line x1="1411" y1="2311.6" x2="1429.2" y2="2311.6" stroke="#000" stroke-width="4.4" stroke-linecap="butt"/>
<line x1="238.4" y1="2405.17" x2="247.6" y2="2405.17" stroke="#000" stroke-width="4.4" stroke-linecap="butt"/>
<line x1="1411" y1="2405.17" x2="1419.2" y2="2405.17" stroke="#000" stroke-width="4.4" stroke-linecap="butt"/>
<line x1="230.4" y1="2498.74" x2="247.6" y2="2498.74" stroke="#000" stroke-width="4.4" stroke-linecap="butt"/>
<line x1="1411" y1="2498.74" x2="1429.2" y2="2498.74" stroke="#000" stroke-width="4.4" stroke-linecap="butt"/>
<line x1="238.4" y1="2592.31" x2="247.6" y2="2592.31" stroke="#000" stroke-width="4.4" stroke-linecap="butt"/>
<line x1="1411" y1="2592.31" x2="1419.2" y2="2592.31" stroke="#000" stroke-width="4.4" stroke-linecap="butt"/>
<line x1="238.4" y1="2685.88" x2="247.6" y2="2685.88" stroke="#000" stroke-width="4.4" stroke-linecap="butt"/>
<line x1="1411" y1="2685.88" x2="1429.2" y2="2685.88" stroke="#000" stroke-width="4.4" stroke-linecap="butt"/>
<line x1="238.4" y1="2779.45" x2="247.6" y2="2779.45" stroke="#000" stroke-width="4.4" stroke-linecap="butt"/>
<line x1="1411" y1="2779.45" x2="1419.2" y2="2779.45" stroke="#000" stroke-width="4.4" stroke-linecap="butt"/>
<line x1="238.4" y1="2873.02" x2="247.6" y2="2873.02" stroke="#000" stroke-width="4.4" stroke-linecap="butt"/>
<line x1="1411" y1="2873.02" x2="1429.2" y2="2873.02" stroke="#000" stroke-width="4.4" stroke-linecap="butt"/>
<line x1="238.4" y1="2966.59" x2="247.6" y2="2966.59" stroke="#000" stroke-width="4.4" stroke-linecap="butt"/>
<line x1="1411" y1="2966.59" x2="1419.2" y2="2966.59" stroke="#000" stroke-width="4.4" stroke-linecap="butt"/>
<line x1="238.4" y1="3060.16" x2="247.6" y2="3060.16" stroke="#000" stroke-width="4.4" stroke-linecap="butt"/>
<line x1="1411" y1="3060.16" x2="1429.2" y2="3060.16" stroke="#000" stroke-width="4.4" stroke-linecap="butt"/>
<line x1="238.4" y1="3153.73" x2="247.6" y2="3153.73" stroke="#000" stroke-width="4.4" stroke-linecap="butt"/>
<line x1="1411" y1="3153.73" x2="1419.2" y2="3153.73" stroke="#000" stroke-width="4.4" stroke-linecap="butt"/>
<line x1="230.4" y1="3247.3" x2="247.6" y2="3247.3" stroke="#000" stroke-width="4.4" stroke-linecap="butt"/>
<line x1="1411" y1="3247.3" x2="1429.2" y2="3247.3" stroke="#000" stroke-width="4.4" stroke-linecap="butt"/>
<text transform="translate(561.05,3427.06) scale(1.0121,1)" style="font-size:69.87px;font-kerning:none" fill="#000" >Wavelength (nm)</text>
<g transform="translate(115.02,65.5) scale(1.0122,1)" fill="#000">
<path transform="translate(0,0) scale(57.714)" d="M0.232,0 L0.334,0 L0.334,-0.698 L0.25,-0.698 L0.054,-0.572 L0.054,-0.508 L0.232,-0.58 Z"/>
<text x="32.1" y="0" style="font-size:57.71px;font-kerning:none;white-space:pre" xml:space="preserve">.2</text>
</g>
<g transform="translate(115.05,212.34) scale(1.0314,1)" fill="#000">
<path transform="translate(0,0) scale(56.197)" d="M0.232,0 L0.334,0 L0.334,-0.698 L0.25,-0.698 L0.054,-0.572 L0.054,-0.508 L0.232,-0.58 Z"/>
<text x="31.25" y="0" style="font-size:56.20px;font-kerning:none;white-space:pre" xml:space="preserve">.0</text>
</g>
<text transform="translate(114.36,359.84) scale(1.0353,1)" style="font-size:56.48px;font-kerning:none" fill="#000" >0.8</text>
<text transform="translate(114.35,507.84) scale(1.0445,1)" style="font-size:56.20px;font-kerning:none" fill="#000" >0.6</text>
<text transform="translate(114.38,655.13) scale(1.0173,1)" style="font-size:57.04px;font-kerning:none" fill="#000" >0.4</text>
<text transform="translate(114.34,802.24) scale(1.0433,1)" style="font-size:56.48px;font-kerning:none" fill="#000" >0.2</text>
<text transform="translate(114.36,950.23) scale(1.0226,1)" style="font-size:57.18px;font-kerning:none" fill="#000" >0.0</text>
<g transform="translate(115.02,1228.8) scale(1.0567,1)" fill="#000">
<path transform="translate(0,0) scale(55.286)" d="M0.232,0 L0.334,0 L0.334,-0.698 L0.25,-0.698 L0.054,-0.572 L0.054,-0.508 L0.232,-0.58 Z"/>
<text x="30.75" y="0" style="font-size:55.29px;font-kerning:none;white-space:pre" xml:space="preserve">.2</text>
</g>
<g transform="translate(115.05,1374.75) scale(1.0606,1)" fill="#000">
<path transform="translate(0,0) scale(54.648)" d="M0.232,0 L0.334,0 L0.334,-0.698 L0.25,-0.698 L0.054,-0.572 L0.054,-0.508 L0.232,-0.58 Z"/>
<text x="30.39" y="0" style="font-size:54.65px;font-kerning:none;white-space:pre" xml:space="preserve">.0</text>
</g>
<text transform="translate(114.36,1523.43) scale(1.0226,1)" style="font-size:57.18px;font-kerning:none" fill="#000" >0.8</text>
<text transform="translate(114.35,1670.94) scale(1.0419,1)" style="font-size:56.34px;font-kerning:none" fill="#000" >0.6</text>
<text transform="translate(114.38,1818.44) scale(1.0431,1)" style="font-size:55.63px;font-kerning:none" fill="#000" >0.4</text>
<text transform="translate(114.34,1967.04) scale(1.0433,1)" style="font-size:56.48px;font-kerning:none" fill="#000" >0.2</text>
<text transform="translate(114.36,2113.43) scale(1.0251,1)" style="font-size:57.04px;font-kerning:none" fill="#000" >0.0</text>
<g transform="translate(106.45,2336.75) scale(1.0445,1)" fill="#000">
<path transform="translate(0,0) scale(55.493)" d="M0.232,0 L0.334,0 L0.334,-0.698 L0.25,-0.698 L0.054,-0.572 L0.054,-0.508 L0.232,-0.58 Z"/>
<text x="30.86" y="0" style="font-size:55.49px;font-kerning:none;white-space:pre" xml:space="preserve">.0</text>
</g>
<text transform="translate(107,2506.85) scale(1.0372,1)" style="font-size:55.49px;font-kerning:none" fill="#000" >0.8</text>
<text transform="translate(114.35,2708.95) scale(1.0741,1)" style="font-size:54.65px;font-kerning:none" fill="#000" >0.6</text>
<text transform="translate(114.38,2888.55) scale(1.0457,1)" style="font-size:55.49px;font-kerning:none" fill="#000" >0.4</text>
<text transform="translate(114.34,3069.94) scale(1.0591,1)" style="font-size:55.63px;font-kerning:none" fill="#000" >0.2</text>
<text transform="translate(107,3250.15) scale(1.0372,1)" style="font-size:55.49px;font-kerning:none" fill="#000" >0.0</text>
<text transform="translate(197.43,1047.98) scale(0.9325,1)" style="font-size:61.55px;font-kerning:none" fill="#000" >200</text>
<text transform="translate(488.18,1047.98) scale(0.9325,1)" style="font-size:61.55px;font-kerning:none" fill="#000" >250</text>
<text transform="translate(779.52,1047.98) scale(0.9267,1)" style="font-size:61.55px;font-kerning:none" fill="#000" >300</text>
<text transform="translate(1070.27,1047.98) scale(0.9267,1)" style="font-size:61.55px;font-kerning:none" fill="#000" >350</text>
<text transform="translate(1361.89,1047.98) scale(0.9180,1)" style="font-size:61.55px;font-kerning:none" fill="#000" >400</text>
<text transform="translate(197.43,2193.89) scale(0.9433,1)" style="font-size:60.85px;font-kerning:none" fill="#000" >200</text>
<text transform="translate(488.18,2193.89) scale(0.9433,1)" style="font-size:60.85px;font-kerning:none" fill="#000" >250</text>
<text transform="translate(779.52,2193.89) scale(0.9374,1)" style="font-size:60.85px;font-kerning:none" fill="#000" >300</text>
<text transform="translate(1070.27,2193.89) scale(0.9374,1)" style="font-size:60.85px;font-kerning:none" fill="#000" >350</text>
<text transform="translate(1361.89,2193.89) scale(0.9286,1)" style="font-size:60.85px;font-kerning:none" fill="#000" >400</text>
<text transform="translate(197.43,3321.7) scale(0.9589,1)" style="font-size:59.86px;font-kerning:none" fill="#000" >200</text>
<text transform="translate(488.18,3321.7) scale(0.9589,1)" style="font-size:59.86px;font-kerning:none" fill="#000" >250</text>
<text transform="translate(779.52,3321.7) scale(0.9528,1)" style="font-size:59.86px;font-kerning:none" fill="#000" >300</text>
<text transform="translate(1070.27,3321.7) scale(0.9528,1)" style="font-size:59.86px;font-kerning:none" fill="#000" >350</text>
<text transform="translate(1361.89,3321.7) scale(0.9439,1)" style="font-size:59.86px;font-kerning:none" fill="#000" >400</text>
<text transform="translate(76.5,758.15) rotate(-90) scale(0.9620,1)" style="font-size:73.55px" fill="#000">Absorbance</text>
<text transform="translate(76.5,337.34) rotate(-90) scale(0.9620,1)" style="font-size:73.55px" fill="#000">a.u.</text>
<text transform="translate(70.04,359.17) rotate(-90) scale(1.0000,1)" style="font-size:61.71px" fill="#000">(</text>
<text transform="translate(70.04,218.07) rotate(-90) scale(1.0000,1)" style="font-size:61.71px" fill="#000">)</text>
<text transform="translate(76.5,1903.75) rotate(-90) scale(0.9583,1)" style="font-size:73.55px" fill="#000">Absorbance</text>
<text transform="translate(76.5,1484.53) rotate(-90) scale(0.9583,1)" style="font-size:73.55px" fill="#000">a.u.</text>
<text transform="translate(70.04,1506.31) rotate(-90) scale(1.0000,1)" style="font-size:61.71px" fill="#000">(</text>
<text transform="translate(70.04,1365.74) rotate(-90) scale(1.0000,1)" style="font-size:61.71px" fill="#000">)</text>
<text transform="translate(76.5,3029.15) rotate(-90) scale(0.9580,1)" style="font-size:73.55px" fill="#000">Absorbance</text>
<text transform="translate(76.5,2610.08) rotate(-90) scale(0.9580,1)" style="font-size:73.55px" fill="#000">a.u.</text>
<text transform="translate(70.04,2631.86) rotate(-90) scale(1.0000,1)" style="font-size:61.71px" fill="#000">(</text>
<text transform="translate(70.04,2491.33) rotate(-90) scale(1.0000,1)" style="font-size:61.71px" fill="#000">)</text>
<path d="M173.2,996 L175.6,992.3 L178,992.3 L176,996 Z" fill="#5a5a5a"/>
<text transform="translate(1194.2,859.37) scale(1.0530,1)" style="font-size:110.16px;font-weight:bold;font-kerning:none" fill="#000" >(a)</text>
<text transform="translate(1226.37,1995.46) scale(1.0347,1)" style="font-size:108.77px;font-weight:bold;font-kerning:none" fill="#000" >(b)</text>
<text transform="translate(1226.26,3178.88) scale(1.0476,1)" style="font-size:109.63px;font-weight:bold;font-kerning:none" fill="#000" >(c)</text>
<line x1="894.5" y1="88.6" x2="984.5" y2="88.6" stroke="#000000" stroke-width="4.5" stroke-linecap="round"/>
<line x1="894.5" y1="148" x2="984.5" y2="148" stroke="#ff0000" stroke-width="4.5" stroke-linecap="round"/>
<line x1="894.5" y1="197.2" x2="984.5" y2="197.2" stroke="#0000ff" stroke-width="4.5" stroke-linecap="round"/>
<g transform="translate(995.93,102.29) scale(0.9826,1)" fill="#1a1a1a">
<text x="0" y="0" style="font-size:39.99px;font-kerning:none;white-space:pre" xml:space="preserve">cypro </text>
<path transform="translate(108.9,0) scale(39.989)" d="M0.232,0 L0.334,0 L0.334,-0.698 L0.25,-0.698 L0.054,-0.572 L0.054,-0.508 L0.232,-0.58 Z"/>
<text x="131.14" y="0" style="font-size:39.99px;font-kerning:none;white-space:pre" xml:space="preserve">0 ppm H</text>
</g>
<text transform="translate(1272.79,113.8) scale(1.0538,1)" style="font-size:28.57px;font-kerning:none" fill="#1a1a1a" >2</text>
<text transform="translate(1288.69,102.59) scale(0.9762,1)" style="font-size:41.13px;font-kerning:none" fill="#1a1a1a" >O</text>
<g transform="translate(996.05,159.1) scale(1.0353,1)" fill="#1a1a1a">
<path transform="translate(0,0) scale(38.037)" d="M0.232,0 L0.334,0 L0.334,-0.698 L0.25,-0.698 L0.054,-0.572 L0.054,-0.508 L0.232,-0.58 Z"/>
<text x="21.15" y="0" style="font-size:38.04px;font-kerning:none;white-space:pre" xml:space="preserve">st adsorption</text>
</g>
<text transform="translate(996.05,210.16) scale(0.9957,1)" style="font-size:39.21px;font-kerning:none" fill="#1a1a1a" >2nd adsorption</text>
<line x1="831" y1="1252.5" x2="920" y2="1252.5" stroke="#000000" stroke-width="4.5" stroke-linecap="round"/>
<line x1="831" y1="1301.3" x2="920" y2="1301.3" stroke="#ff0000" stroke-width="4.5" stroke-linecap="round"/>
<line x1="831" y1="1351.4" x2="920" y2="1351.4" stroke="#0000ff" stroke-width="4.5" stroke-linecap="round"/>
<g transform="translate(929.71,1265.99) scale(1.0303,1)" fill="#1a1a1a">
<text x="0" y="0" style="font-size:38.57px;font-kerning:none;white-space:pre" xml:space="preserve">cypro </text>
<path transform="translate(105.04,0) scale(38.572)" d="M0.232,0 L0.334,0 L0.334,-0.698 L0.25,-0.698 L0.054,-0.572 L0.054,-0.508 L0.232,-0.58 Z"/>
<text x="126.49" y="0" style="font-size:38.57px;font-kerning:none;white-space:pre" xml:space="preserve">0 ppm NaCl 0.5 M</text>
</g>
<g transform="translate(932.46,1314.3) scale(1.0319,1)" fill="#1a1a1a">
<path transform="translate(0,0) scale(38.037)" d="M0.232,0 L0.334,0 L0.334,-0.698 L0.25,-0.698 L0.054,-0.572 L0.054,-0.508 L0.232,-0.58 Z"/>
<text x="21.15" y="0" style="font-size:38.04px;font-kerning:none;white-space:pre" xml:space="preserve">st adsorption</text>
</g>
<text transform="translate(943.66,1362.17) scale(1.0055,1)" style="font-size:38.68px;font-kerning:none" fill="#1a1a1a" >2nd adsorption</text>
<line x1="713" y1="2346.6" x2="804" y2="2346.6" stroke="#000000" stroke-width="4.5" stroke-linecap="round"/>
<line x1="713" y1="2396.1" x2="804" y2="2396.1" stroke="#ff0000" stroke-width="4.5" stroke-linecap="round"/>
<line x1="713" y1="2445.6" x2="804" y2="2445.6" stroke="#0000ff" stroke-width="4.5" stroke-linecap="round"/>
<g transform="translate(813.62,2359.68) scale(1.0344,1)" fill="#1a1a1a">
<text x="0" y="0" style="font-size:38.14px;font-kerning:none;white-space:pre" xml:space="preserve">cypro </text>
<path transform="translate(103.87,0) scale(38.144)" d="M0.232,0 L0.334,0 L0.334,-0.698 L0.25,-0.698 L0.054,-0.572 L0.054,-0.508 L0.232,-0.58 Z"/>
<text x="125.09" y="0" style="font-size:38.14px;font-kerning:none;white-space:pre" xml:space="preserve">0 ppm NaCl 0.5 M</text>
</g>
<g transform="translate(813.74,2408.17) scale(1.0463,1)" fill="#1a1a1a">
<path transform="translate(0,0) scale(37.717)" d="M0.232,0 L0.334,0 L0.334,-0.698 L0.25,-0.698 L0.054,-0.572 L0.054,-0.508 L0.232,-0.58 Z"/>
<text x="20.98" y="0" style="font-size:37.72px;font-kerning:none;white-space:pre" xml:space="preserve">st adsorption</text>
</g>
<text transform="translate(813.42,2456.27) scale(1.0516,1)" style="font-size:37.72px;font-kerning:none" fill="#1a1a1a" >2nd adsorption (post regen pH2)</text>
</svg></body></html>
